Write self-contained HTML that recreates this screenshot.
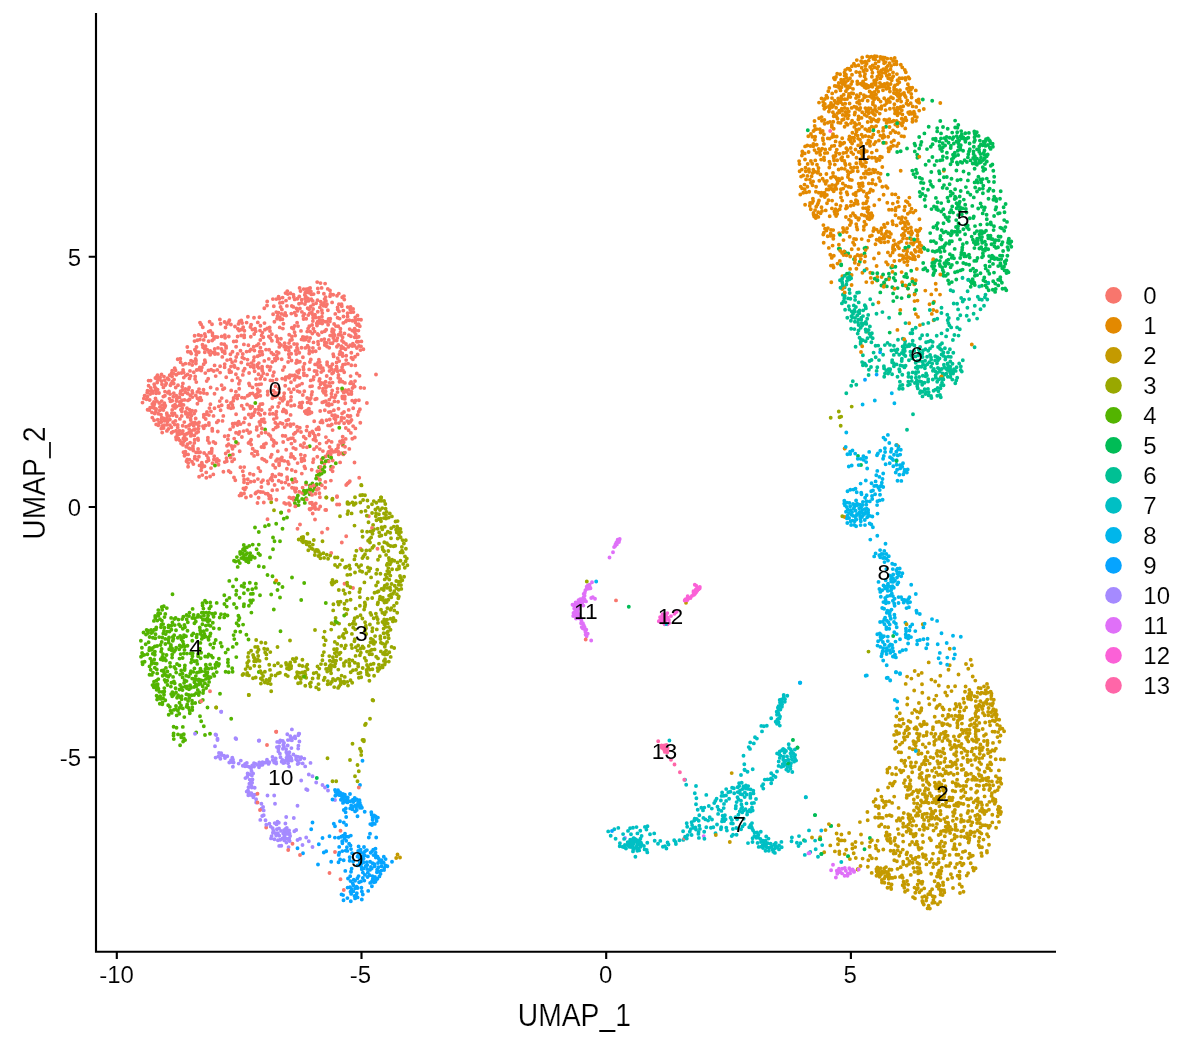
<!DOCTYPE html>
<html lang="en"><head><meta charset="utf-8"><title>UMAP clusters</title>
<style>
html,body{margin:0;padding:0;background:#fff;}
body{width:1200px;height:1050px;overflow:hidden;font-family:"Liberation Sans",Arial,Helvetica,sans-serif;}
svg{display:block;position:absolute;left:0;top:0;}
text{font-family:"Liberation Sans",Arial,Helvetica,sans-serif;fill:#000;}
.pts path{fill:none;stroke-width:3.90;stroke-linecap:round;}
.axis{fill:none;stroke:#000;stroke-width:2.13;}
.tk text,.lg text{font-size:24px;stroke:#fff;stroke-width:0.12px;paint-order:fill stroke;}
.ti text{font-size:28px;stroke:#fff;stroke-width:0.2px;paint-order:fill stroke;}
.lb text{font-size:22.8px;}
</style></head><body>
<svg width="1200" height="1050" viewBox="0 0 1200 1050">
<rect width="1200" height="1050" fill="#fff"/>
<g class="pts">
<path stroke="#E38900" d="M910.9 243.1h0M893.4 245.4h0M807.3 145.5h0M914.0 242.4h0M867.0 216.5h0M835.5 155.8h0M856.2 224.1h0M896.9 74.1h0M867.0 247.8h0M911.6 97.5h0M845.1 163.4h0M844.7 517.0h0M908.7 232.5h0M813.5 212.9h0M818.8 192.8h0M840.5 206.0h0M917.8 101.9h0M890.6 84.0h0M913.0 255.2h0M851.1 84.1h0M892.9 224.3h0M837.5 263.6h0M871.4 119.1h0M859.6 255.7h0M836.0 152.5h0M865.5 136.0h0M832.1 200.6h0M848.2 174.8h0M859.5 109.8h0M815.1 129.5h0M907.1 251.5h0M887.9 86.0h0M820.6 132.6h0M847.1 228.2h0M897.5 112.8h0M923.8 109.0h0M889.5 127.0h0M847.9 177.0h0M804.7 153.4h0M902.0 255.4h0M909.1 295.4h0M880.8 58.6h0M863.3 203.5h0M920.4 228.6h0M833.5 235.7h0M842.1 110.8h0M826.5 230.5h0M842.0 178.2h0M857.3 229.5h0M837.6 180.8h0M874.7 56.3h0M898.5 122.6h0M868.4 140.4h0M897.5 126.2h0M896.3 61.4h0M851.7 249.2h0M827.8 138.4h0M819.3 180.7h0M904.3 210.2h0M824.3 181.1h0M847.6 124.8h0M913.3 212.6h0M846.6 205.9h0M866.3 111.5h0M887.8 236.5h0M886.0 186.2h0M886.8 231.5h0M873.1 110.7h0M887.7 65.9h0M906.8 243.1h0M861.1 61.1h0M869.6 143.1h0M837.5 118.7h0M931.3 294.4h0M867.3 331.5h0M877.8 121.5h0M884.8 227.1h0M824.0 157.5h0M845.5 115.8h0M899.0 248.2h0M813.1 201.1h0M864.2 97.5h0M841.6 168.5h0M891.7 80.2h0M911.5 208.8h0M884.2 98.2h0M844.6 99.3h0M849.8 179.7h0M898.6 133.1h0M867.5 211.7h0M831.7 257.9h0M852.9 171.0h0M894.1 87.2h0M861.7 214.7h0M851.0 167.7h0M865.0 177.5h0M839.4 153.8h0M833.8 255.8h0M887.9 252.4h0M839.0 85.9h0M826.4 95.7h0M871.7 126.6h0M871.7 84.5h0M847.5 68.6h0M810.5 146.0h0M833.9 78.0h0M827.0 203.2h0M844.5 84.0h0M888.7 151.4h0M882.3 167.0h0M881.6 277.0h0M801.1 176.6h0M873.0 169.8h0M829.9 149.0h0M881.7 84.8h0M838.5 100.9h0M917.4 235.5h0M812.1 203.0h0M902.2 78.3h0M876.8 111.5h0M867.8 85.8h0M845.9 208.6h0M887.3 202.8h0M899.5 78.3h0M865.2 129.1h0M870.0 145.8h0M831.8 124.9h0M935.7 283.8h0M880.1 156.6h0M839.1 87.9h0M908.3 104.9h0M872.0 157.7h0M857.4 84.0h0M869.3 128.7h0M875.6 141.9h0M870.1 67.0h0M843.0 228.0h0M904.3 119.8h0M866.0 203.3h0M830.3 254.7h0M816.2 206.8h0M833.8 158.1h0M845.2 70.1h0M831.3 282.2h0M877.8 87.3h0M906.3 249.0h0M914.2 284.4h0M844.5 72.5h0M877.9 172.7h0M849.0 139.2h0M868.4 240.6h0M870.3 272.7h0M885.9 142.9h0M871.7 69.3h0M836.7 179.1h0M876.7 229.6h0M900.5 107.0h0M865.4 61.8h0M894.3 261.0h0M865.4 108.1h0M907.1 88.8h0M919.7 244.6h0M862.4 155.5h0M933.6 320.2h0M831.1 188.2h0M891.5 142.1h0M860.5 161.7h0M805.1 204.7h0M812.3 136.8h0M884.6 242.3h0M850.7 172.1h0M802.3 151.4h0M858.6 152.0h0M915.5 210.6h0M802.1 188.4h0M861.3 153.2h0M865.5 69.3h0M843.1 232.1h0M831.8 146.1h0M835.7 185.2h0M841.5 87.2h0M862.3 85.0h0M862.8 186.0h0M893.0 60.9h0M890.5 69.2h0M878.7 61.4h0M855.7 134.4h0M890.5 133.0h0M857.8 203.9h0M871.7 94.5h0M818.2 212.2h0M851.5 93.1h0M875.1 106.3h0M859.2 100.8h0M843.7 119.3h0M842.4 276.2h0M817.5 172.8h0M819.1 118.2h0M897.4 329.9h0M831.9 208.4h0M936.1 289.7h0M857.3 201.3h0M808.6 152.0h0M864.4 87.0h0M893.0 72.4h0M895.1 110.5h0M883.3 60.1h0M863.9 95.2h0M834.6 100.7h0M837.2 160.3h0M904.8 95.5h0M902.3 67.4h0M874.7 67.2h0"/>
<path stroke="#DF70F8" d="M836.8 870.8h0M576.4 616.1h0M582.1 603.2h0M578.5 605.7h0M586.0 601.4h0M835.9 877.5h0M614.1 547.1h0M573.5 612.9h0M583.4 600.9h0M582.7 628.2h0M585.4 590.3h0M586.3 629.6h0M583.5 597.5h0M578.5 600.2h0M576.9 607.4h0M587.7 633.8h0M808.5 853.2h0M578.6 607.9h0M617.8 541.7h0M584.6 595.8h0M595.0 598.8h0M582.9 623.3h0M587.9 585.5h0M579.4 614.7h0M577.1 604.7h0M583.7 625.3h0M576.1 609.2h0"/>
<path stroke="#FF66A8" d="M663.1 747.8h0M664.4 746.9h0M667.4 748.9h0M664.0 748.0h0M658.2 741.2h0"/>
<path stroke="#FB61D7" d="M696.2 585.7h0M662.5 614.3h0M665.1 621.7h0M687.7 596.3h0M668.9 619.9h0M698.1 589.4h0M694.8 584.8h0M662.4 620.6h0M686.2 599.1h0"/>
<path stroke="#99A800" d="M383.7 590.0h0M254.9 658.7h0M376.2 656.7h0M387.5 563.6h0M329.6 666.1h0M404.8 567.7h0M365.0 495.2h0M378.8 519.0h0M378.9 664.6h0M387.3 587.9h0M360.6 648.8h0M400.6 537.3h0M397.1 526.5h0M299.5 672.9h0M373.1 524.9h0M345.8 645.4h0M390.4 575.6h0M248.8 695.0h0M842.3 516.3h0M289.1 666.2h0M322.4 660.3h0M344.6 608.7h0M397.5 562.4h0M397.2 612.7h0M298.1 683.3h0M387.9 631.5h0M363.7 648.0h0M358.9 567.0h0M383.6 633.2h0M400.4 529.0h0M274.0 510.3h0M318.8 689.2h0M354.7 618.2h0M297.1 672.2h0M344.8 676.9h0M378.5 591.2h0M396.3 581.0h0M389.3 572.0h0M289.7 664.5h0M340.5 652.6h0M245.6 669.1h0M331.1 673.3h0M397.6 521.1h0M366.6 670.0h0M277.5 647.0h0M333.8 582.5h0M393.4 617.9h0M388.3 568.1h0M356.1 669.7h0M340.0 516.2h0M363.8 740.0h0M398.7 589.7h0M376.5 520.2h0M381.0 521.3h0M256.1 661.3h0M345.0 567.5h0M838.8 411.5h0M355.0 503.8h0M301.6 537.5h0M347.3 574.9h0M373.8 501.1h0M306.2 677.8h0M396.4 588.3h0M253.1 655.0h0M216.2 707.5h0M387.3 571.1h0M358.9 677.8h0M350.0 760.0h0M299.3 665.2h0M380.4 573.8h0M394.7 585.8h0M380.9 651.4h0M336.9 649.0h0M376.8 629.4h0M368.5 522.3h0M365.8 625.7h0M388.7 638.3h0M346.3 614.0h0M327.6 684.2h0M355.7 503.3h0M380.7 518.8h0M851.7 406.6h0M330.5 670.5h0M380.0 510.0h0M378.0 602.5h0M307.6 669.2h0M348.1 511.3h0M339.3 686.1h0M364.8 602.4h0M335.3 663.6h0M370.0 718.8h0M380.4 639.0h0M270.3 652.1h0M384.6 614.2h0M358.8 771.2h0M339.2 654.1h0M586.8 581.5h0M356.5 564.6h0M336.8 651.8h0M388.4 599.7h0M248.9 675.4h0M384.7 664.6h0M306.1 666.7h0M391.0 538.3h0M360.0 748.8h0M339.9 564.6h0M312.8 549.1h0M308.3 550.3h0M362.4 618.5h0M334.7 666.4h0M362.6 536.7h0M396.8 532.4h0M342.4 636.0h0M370.9 638.6h0M391.2 528.2h0M377.7 528.8h0M387.1 654.2h0M361.2 677.3h0M360.3 495.2h0M394.2 648.0h0M305.3 685.7h0M355.0 572.5h0M384.3 542.2h0M259.5 666.5h0M354.4 641.3h0M391.9 516.4h0M381.4 535.5h0M385.8 621.7h0M402.8 552.5h0M333.4 604.2h0M379.3 669.1h0M385.6 508.8h0M270.7 684.1h0M385.8 600.3h0M325.7 640.2h0M370.0 718.8h0"/>
<path stroke="#C49A00" d="M974.6 723.3h0M906.1 826.4h0M938.2 763.7h0M926.3 778.8h0M955.4 762.5h0M917.0 729.2h0M941.3 850.1h0M990.6 756.7h0M988.4 836.6h0M876.1 848.4h0M994.8 721.2h0M909.0 863.9h0M986.9 703.7h0M922.0 684.3h0M936.8 796.9h0M920.1 724.5h0M924.5 813.9h0M979.8 818.4h0M963.1 757.8h0M987.2 768.0h0M941.3 799.2h0M979.6 775.9h0M971.6 751.4h0M948.5 766.4h0M969.4 690.0h0M686.0 602.8h0M967.5 838.3h0M925.4 764.4h0M937.4 761.3h0M960.0 893.0h0M907.9 789.9h0M923.5 735.9h0M898.6 807.9h0M943.2 885.1h0M950.8 772.9h0M998.9 787.1h0M988.3 777.6h0M907.3 736.4h0M902.2 742.6h0M949.6 709.8h0M956.6 706.6h0M860.5 866.0h0M878.4 850.8h0M999.5 741.7h0M957.9 720.8h0M870.0 855.8h0M962.9 733.0h0M934.8 782.6h0M988.1 711.9h0M933.3 813.3h0M922.9 902.7h0M955.6 826.8h0M971.0 798.5h0M916.6 807.3h0M963.1 830.5h0M932.8 825.1h0M994.9 791.5h0M944.3 788.4h0M980.5 827.2h0M997.6 790.1h0M988.7 827.7h0M902.7 817.9h0M986.3 811.2h0M995.9 710.2h0M975.6 734.0h0M954.2 805.2h0M949.3 806.5h0M970.3 834.6h0M975.8 701.1h0M927.3 796.1h0M891.5 869.7h0M892.1 802.9h0M949.9 741.7h0M972.2 810.9h0M975.8 731.4h0M952.6 797.7h0M945.4 786.2h0M896.8 820.7h0M940.1 901.9h0M904.7 739.7h0M987.2 825.6h0M839.6 840.5h0M923.1 785.1h0M975.4 713.5h0M825.5 830.1h0M958.5 854.8h0M900.0 876.9h0M926.2 900.6h0M956.3 786.0h0M984.0 735.8h0M988.1 753.3h0M976.3 711.5h0M975.2 759.8h0M982.6 811.9h0M975.2 777.9h0M935.5 800.4h0M945.0 851.1h0M985.8 778.4h0M936.3 708.0h0M910.4 780.2h0M985.2 722.5h0M895.1 877.2h0M961.9 886.7h0M947.7 879.2h0M907.5 698.3h0M940.0 846.9h0M968.6 842.5h0M926.7 798.5h0M923.8 762.7h0M927.5 760.6h0M908.6 720.9h0M906.5 854.3h0M992.7 710.9h0M964.2 710.2h0M949.4 830.5h0M914.1 744.1h0M875.6 799.3h0M976.4 720.1h0M976.5 739.1h0M940.9 756.2h0M931.5 796.0h0M914.9 898.4h0M957.6 875.8h0M919.7 712.6h0M954.6 813.0h0M935.2 786.2h0M912.1 842.0h0M903.9 737.2h0M957.1 779.7h0M927.6 908.4h0M964.8 730.1h0M921.3 890.1h0M933.0 853.6h0M981.2 775.6h0M905.0 780.2h0M931.8 859.2h0M978.5 710.1h0M999.8 729.1h0M898.0 846.4h0M896.9 861.2h0M947.1 817.3h0M989.4 801.9h0M909.1 795.1h0M878.7 806.2h0M976.7 725.5h0M979.1 758.5h0M861.9 843.1h0M921.2 777.4h0M887.2 873.6h0M920.5 805.7h0M912.2 772.2h0M959.8 844.3h0M984.0 741.0h0M987.6 743.0h0M901.2 772.3h0M950.9 874.3h0M922.8 744.4h0M927.2 770.4h0M981.1 764.1h0M919.7 734.1h0M911.4 678.6h0M820.2 837.1h0M955.7 703.9h0M977.9 706.4h0M910.7 786.6h0M934.3 699.7h0M952.7 790.8h0M929.4 704.2h0M932.1 770.7h0M918.7 740.3h0M908.6 828.5h0M972.5 748.7h0M910.8 874.9h0M898.9 818.2h0M967.9 779.6h0M944.0 723.9h0M990.1 725.3h0M961.5 743.9h0M938.4 818.9h0M936.9 846.8h0M899.8 744.6h0M928.2 789.3h0M956.2 805.6h0M997.7 816.2h0M890.1 783.4h0M888.7 878.7h0M961.4 858.0h0M989.0 844.8h0M942.6 852.5h0M983.8 755.3h0M895.0 748.7h0M901.1 752.4h0M819.6 839.1h0M910.8 830.3h0M910.6 833.4h0M963.9 821.0h0M960.8 803.5h0M961.0 821.7h0M972.7 676.5h0M1000.1 807.7h0M950.9 749.1h0M896.3 747.4h0M1004.1 731.2h0M971.0 773.8h0M956.0 755.8h0M956.4 752.0h0M956.1 849.3h0M849.1 833.0h0M960.1 862.6h0M913.3 791.6h0M940.5 774.5h0M991.9 781.4h0M930.2 891.6h0M939.8 704.8h0M844.6 840.5h0M978.6 730.4h0M915.9 857.6h0M959.4 715.2h0"/>
<path stroke="#A58AFF" d="M284.0 830.2h0M286.2 817.0h0M289.1 766.6h0M280.3 740.4h0M276.5 824.4h0M287.3 734.2h0M275.7 758.5h0M271.0 838.4h0M284.0 746.8h0M285.7 832.5h0M291.7 760.5h0M299.4 741.5h0M304.3 758.6h0M280.3 839.8h0M277.2 741.9h0M322.5 785.0h0M251.9 775.6h0M227.3 756.2h0M625.0 838.0h0M240.8 760.6h0M258.8 740.8h0M255.2 794.6h0M267.2 761.7h0M256.2 802.5h0M246.9 766.1h0M301.2 757.2h0M217.5 738.8h0M276.9 829.2h0M335.0 800.0h0M272.8 760.1h0M277.5 821.8h0M236.2 739.0h0M279.2 845.9h0M296.2 830.0h0M253.1 773.5h0M254.0 763.1h0M249.3 766.9h0M247.6 773.4h0M294.3 831.2h0M219.0 753.0h0M287.9 740.1h0M307.5 790.0h0M305.2 766.4h0M297.6 764.1h0M221.2 711.8h0M233.0 759.7h0M316.2 782.5h0M274.4 839.3h0M284.3 836.1h0M224.0 755.8h0"/>
<path stroke="#06A4FF" d="M359.9 802.9h0M362.8 878.0h0M392.0 861.8h0M358.6 846.5h0M345.0 833.8h0M343.1 835.7h0M360.0 785.0h0M355.2 800.2h0M335.0 790.0h0M348.0 878.5h0M347.4 799.6h0M359.6 859.3h0M362.8 894.5h0M379.4 860.5h0M375.4 881.7h0M371.7 814.8h0M346.2 825.0h0M351.0 871.7h0M339.2 846.9h0M370.0 833.8h0M352.3 809.2h0M360.0 807.8h0M377.4 878.7h0M357.0 805.0h0M381.3 870.6h0M343.9 800.1h0M378.0 863.0h0M345.3 870.9h0M352.1 853.3h0M335.3 795.7h0M349.7 857.2h0M372.5 876.1h0M341.2 836.8h0M342.3 851.1h0M378.4 867.2h0M360.8 805.7h0M361.2 852.6h0M338.9 795.1h0M341.4 795.5h0M375.9 855.6h0M327.5 786.2h0M372.9 823.2h0M337.7 793.2h0M353.3 802.1h0M318.0 864.5h0M345.7 850.6h0M370.3 824.1h0M355.0 805.6h0M355.1 811.4h0M387.4 866.2h0M353.3 891.4h0M323.8 852.5h0M372.0 881.1h0M357.6 888.0h0M367.9 856.4h0"/>
<path stroke="#F8766D" d="M312.9 321.1h0M330.4 378.8h0M199.8 367.5h0M336.7 340.6h0M276.7 355.7h0M146.5 399.3h0M210.4 330.9h0M343.7 392.6h0M299.8 427.7h0M226.7 401.2h0M301.7 302.9h0M230.9 324.5h0M343.7 342.3h0M307.6 402.4h0M155.8 390.4h0M233.6 397.9h0M323.0 388.6h0M171.4 427.3h0M334.7 397.6h0M316.9 374.4h0M312.6 351.7h0M310.1 338.0h0M305.7 492.3h0M329.3 399.6h0M270.7 457.0h0M290.1 340.2h0M319.7 320.1h0M359.0 345.9h0M320.5 283.1h0M215.7 376.1h0M210.4 404.2h0M169.3 416.1h0M283.2 442.0h0M275.2 392.7h0M328.7 403.8h0M226.0 346.1h0M222.9 389.3h0M220.1 366.2h0M244.7 368.8h0M175.7 387.5h0M265.6 493.6h0M298.4 372.7h0M236.3 341.3h0M206.3 414.3h0M292.0 487.8h0M278.7 352.9h0M319.6 443.6h0M229.4 320.2h0M319.2 380.9h0M300.0 524.5h0M358.7 411.7h0M352.4 320.8h0M338.3 377.7h0M186.2 446.8h0M257.4 366.3h0M216.8 422.4h0M343.0 364.7h0M284.1 315.1h0M347.2 421.1h0M248.8 793.0h0M156.8 376.8h0M311.6 394.8h0M187.3 459.5h0M166.8 413.2h0M354.6 328.7h0M342.6 356.0h0M161.5 381.0h0M219.8 401.1h0M187.0 408.2h0M249.0 433.1h0M247.6 395.8h0M275.3 396.9h0M263.3 373.3h0M185.4 451.6h0M329.6 447.0h0M309.3 326.2h0M353.4 312.1h0M173.3 396.8h0M279.2 474.3h0M321.9 316.7h0M368.8 516.2h0M277.6 358.6h0M272.3 490.3h0M295.3 432.7h0M199.1 476.8h0M200.5 701.2h0M355.7 334.3h0M327.8 288.9h0M210.0 691.2h0M312.7 513.5h0M273.3 429.6h0M198.2 431.8h0M310.8 398.1h0M221.4 349.0h0M343.3 322.9h0M247.8 364.3h0M291.1 405.9h0M343.4 454.4h0M241.2 495.0h0M234.2 438.6h0M308.0 298.5h0M244.6 397.9h0M361.4 341.4h0M279.3 403.1h0M299.2 406.7h0M197.3 340.2h0M287.4 404.5h0M305.3 292.7h0M325.4 481.9h0M277.3 459.3h0M322.3 402.4h0M185.7 411.9h0M189.5 378.4h0M260.3 414.9h0M259.4 421.9h0M314.5 371.0h0M340.3 379.2h0M320.2 506.5h0M304.3 314.0h0M213.9 338.9h0M183.1 370.0h0M236.2 357.0h0M322.9 451.1h0M177.4 435.1h0M165.3 405.7h0M342.7 445.6h0M253.5 474.8h0M251.3 363.1h0M299.3 352.7h0M288.1 362.0h0M327.6 454.2h0M264.9 329.8h0M257.5 396.4h0M224.6 351.1h0M164.9 395.8h0M303.6 369.5h0M194.3 435.4h0M294.6 332.2h0M157.5 375.3h0M203.5 389.7h0M232.1 380.4h0M208.7 331.6h0M309.7 432.9h0M308.7 300.8h0M256.8 427.1h0M183.8 377.6h0M267.7 391.4h0M315.9 317.5h0M261.2 384.1h0M214.7 352.3h0M175.5 370.2h0M344.9 382.9h0M162.0 405.1h0M183.0 364.8h0M333.9 410.3h0M305.9 301.5h0M350.1 345.3h0M203.8 414.8h0M323.5 305.7h0M258.5 435.9h0M270.4 435.9h0M176.1 430.7h0M349.2 320.3h0M337.6 307.5h0M239.7 451.2h0M344.5 583.8h0M254.3 481.3h0M331.6 369.2h0M301.4 458.8h0M244.2 337.4h0M279.8 459.1h0M177.7 424.9h0M261.4 487.0h0M303.6 458.6h0M251.1 417.3h0M304.9 455.8h0M324.9 321.6h0M220.6 323.8h0M354.6 345.7h0M250.6 366.6h0M159.0 393.0h0M194.6 335.7h0M242.8 354.0h0M177.7 427.3h0M257.6 389.2h0M210.0 691.2h0M337.5 392.1h0M184.5 399.9h0M190.6 412.7h0M210.2 351.0h0M209.0 352.2h0M305.8 296.6h0M299.9 308.5h0M152.3 404.0h0M192.8 361.6h0M284.0 399.1h0M271.8 439.3h0M296.4 481.6h0M282.2 378.6h0M154.1 420.3h0M167.6 378.3h0M288.0 439.2h0M330.6 411.9h0M192.4 397.1h0M149.7 400.0h0M208.2 378.7h0M326.7 342.9h0M261.5 447.0h0M358.6 324.1h0M353.1 426.1h0M210.9 411.4h0M225.5 327.5h0M348.7 389.9h0M243.4 370.9h0M357.1 325.0h0M331.6 441.9h0M297.2 376.8h0M271.9 340.8h0M205.5 425.5h0M308.3 315.1h0M237.2 398.6h0M313.1 318.0h0M236.0 432.7h0M296.9 360.5h0M260.4 347.8h0M346.2 536.2h0M361.0 346.4h0M264.3 360.9h0M276.4 411.8h0M340.1 462.4h0M345.5 349.3h0M247.9 316.7h0M358.9 400.3h0M341.5 304.2h0M317.6 333.9h0M185.4 454.4h0M316.4 485.5h0M313.5 459.2h0M166.2 383.3h0M293.0 456.8h0M205.3 362.2h0M256.0 397.4h0M190.8 435.9h0M262.1 366.6h0M279.1 462.9h0M176.3 374.7h0M214.2 337.2h0M217.9 353.9h0M291.8 306.0h0M346.9 320.1h0M220.1 372.6h0M192.2 365.0h0M296.3 354.0h0M167.5 421.7h0M262.3 370.8h0M218.5 464.8h0M332.0 331.6h0M324.8 342.2h0M266.2 827.5h0M312.1 325.0h0M306.8 410.5h0M321.6 287.9h0M320.9 368.0h0M250.7 481.7h0M239.5 432.0h0M278.6 296.6h0M289.0 503.2h0M338.7 334.7h0M195.7 418.5h0M330.9 366.6h0M211.1 369.8h0M242.1 323.0h0M325.9 306.3h0M212.5 463.2h0M341.6 346.3h0M160.1 377.5h0M205.7 419.0h0M198.8 426.0h0M323.9 302.9h0M243.2 327.2h0M297.1 371.5h0M307.1 426.6h0M264.3 308.3h0M198.4 428.5h0M223.3 415.9h0M325.9 300.9h0M173.1 422.3h0M305.2 468.4h0M312.7 300.9h0M272.3 480.5h0M293.0 482.3h0M191.5 415.6h0M288.3 347.5h0M258.1 392.5h0M339.3 504.5h0M271.4 352.8h0M241.3 495.2h0M325.1 283.6h0M260.2 425.0h0M155.9 411.3h0M351.4 394.0h0M200.3 392.7h0M309.3 292.7h0M210.2 354.7h0M217.0 388.9h0M331.8 424.4h0M324.4 463.6h0M171.6 432.8h0M255.4 493.6h0M228.7 471.0h0M162.0 384.2h0M316.4 429.2h0M199.5 465.4h0M187.0 433.7h0M315.1 364.4h0M213.1 352.5h0M238.5 395.4h0M301.5 407.6h0M297.0 344.3h0M348.9 335.1h0M317.7 321.6h0M328.1 324.8h0M299.8 402.9h0M331.5 396.9h0M180.2 393.7h0M346.2 355.8h0M253.3 415.3h0M327.1 362.3h0M278.7 480.7h0M297.0 426.8h0M220.6 410.2h0M283.7 409.5h0M305.7 339.6h0M303.7 289.1h0M246.0 497.5h0M152.3 417.6h0"/>
<path stroke="#00BC56" d="M976.2 270.6h0M958.6 146.7h0M891.3 267.5h0M986.8 219.2h0M970.6 270.4h0M841.2 265.2h0M916.0 169.7h0M911.2 270.8h0M991.5 258.4h0M973.8 197.4h0M980.1 231.3h0M917.0 173.0h0M989.7 266.4h0M967.8 192.4h0M942.0 151.0h0M944.0 214.6h0M893.3 301.1h0M940.3 238.5h0M1007.4 255.8h0M999.7 213.1h0M942.4 159.9h0M932.6 251.1h0M956.6 208.2h0M994.0 272.6h0M1006.3 290.2h0M933.1 139.0h0M971.8 283.4h0M979.4 248.5h0M974.3 260.9h0M983.3 170.8h0M941.6 239.6h0M958.4 143.3h0M977.1 238.8h0M940.3 121.0h0M988.0 145.0h0M919.7 192.0h0M1006.3 260.3h0M988.1 235.6h0M1005.4 227.1h0M1003.6 207.2h0M986.0 230.7h0M941.0 138.4h0M983.5 141.7h0M972.9 239.8h0M977.0 191.5h0M963.5 171.5h0M972.7 163.5h0M998.4 259.4h0M961.8 134.3h0M838.8 248.8h0M942.6 187.8h0M988.2 190.9h0M948.4 201.2h0M880.3 292.4h0M893.7 278.0h0M854.0 259.3h0M975.0 159.9h0M949.7 137.8h0M1000.3 227.6h0M957.6 164.3h0M910.0 238.3h0M977.8 243.7h0M993.3 170.7h0M998.7 240.2h0M924.5 248.8h0M928.7 126.8h0M959.1 140.6h0M1009.9 243.7h0M1004.6 270.4h0M316.8 778.0h0M963.2 137.1h0M628.8 606.7h0M942.1 274.6h0M943.6 247.7h0M945.8 275.8h0M984.9 241.6h0M944.6 251.1h0M956.9 162.5h0M963.3 263.0h0M983.4 280.2h0M990.8 165.7h0M988.5 198.7h0M974.7 233.3h0M943.9 177.2h0M848.2 253.5h0M980.5 273.3h0M974.9 140.3h0M934.6 165.1h0M1006.5 273.0h0M939.4 180.4h0M942.9 147.2h0M869.9 838.0h0M982.7 179.1h0M820.2 839.2h0M925.2 268.2h0M921.4 142.0h0M916.2 290.3h0M952.1 161.4h0M992.9 146.8h0M953.1 212.6h0M977.0 149.4h0M928.0 189.8h0M993.4 190.7h0M982.8 188.6h0M1005.3 263.8h0M984.3 232.3h0M941.0 257.0h0M974.3 282.8h0M1001.2 259.1h0M992.1 255.8h0M960.1 207.2h0M1007.0 221.9h0M1008.3 249.7h0M982.2 242.8h0M969.8 149.2h0M844.7 251.7h0M980.4 179.5h0M947.7 128.7h0M913.5 174.2h0M973.3 218.1h0M942.9 156.4h0M930.2 233.1h0M948.8 221.0h0M1003.1 251.0h0M939.6 173.4h0M987.9 270.9h0M986.7 156.3h0"/>
<path stroke="#00C094" d="M862.8 340.2h0M892.1 362.3h0M869.6 361.0h0M960.3 315.3h0M969.2 299.1h0M937.9 367.9h0M957.2 377.7h0M910.9 355.2h0M858.7 302.4h0M865.6 306.6h0M901.7 361.0h0M900.4 365.4h0M859.0 292.4h0M949.9 349.3h0M902.6 346.5h0M852.8 381.2h0M908.5 373.2h0M931.0 357.4h0M873.6 352.6h0M905.4 356.0h0M862.9 355.3h0M977.8 296.7h0M846.3 393.3h0M871.4 342.3h0M956.6 367.2h0M876.5 313.7h0M915.6 356.4h0M908.3 381.6h0M923.0 350.5h0M888.6 369.2h0M941.7 349.9h0M917.5 366.5h0M984.0 305.7h0M921.6 381.9h0M861.2 319.8h0M911.8 380.9h0M928.0 388.9h0M958.1 309.4h0M903.1 350.2h0M863.9 323.6h0M904.8 351.0h0M912.7 340.8h0M905.1 341.2h0M924.7 389.2h0M901.8 353.0h0M842.3 278.4h0M952.9 340.0h0M872.9 304.2h0M922.1 335.3h0M950.6 290.2h0M932.7 341.9h0M849.4 309.6h0M924.9 368.3h0M979.4 299.3h0M848.1 298.4h0M841.9 280.5h0M935.7 371.6h0M946.3 368.7h0M893.7 363.2h0M920.1 338.5h0M988.2 283.2h0M844.7 275.7h0M857.7 333.6h0M854.5 311.7h0M925.2 365.7h0M904.7 347.9h0M938.0 360.2h0M908.0 385.2h0M957.9 318.7h0M844.7 287.4h0M904.4 367.4h0M840.0 280.3h0M921.4 366.7h0M931.2 359.6h0M915.7 327.8h0M942.6 373.4h0M919.6 381.1h0"/>
<path stroke="#00BFC4" d="M748.0 843.1h0M694.8 793.2h0M778.6 722.4h0M753.8 743.4h0M771.2 778.5h0M685.0 779.7h0M698.4 833.9h0M762.0 731.4h0M740.4 794.0h0M777.0 714.8h0M775.8 842.9h0M761.3 725.9h0M791.0 763.2h0M737.7 792.1h0M744.9 792.5h0M647.5 826.3h0M750.7 789.4h0M746.7 794.5h0M637.0 840.3h0M725.6 819.2h0M775.7 721.8h0M788.9 762.7h0M750.6 811.6h0M633.3 849.3h0M637.4 844.2h0M635.0 848.1h0M750.5 824.9h0M766.6 847.3h0M779.7 700.0h0M630.1 842.8h0M796.1 760.6h0M779.8 725.6h0M711.8 808.6h0M715.5 833.2h0M679.5 840.2h0M698.7 820.7h0M715.3 800.9h0M726.1 800.9h0M694.7 818.8h0M667.6 842.5h0M743.7 818.8h0M636.8 846.1h0M753.0 830.3h0M774.9 848.6h0M766.1 844.3h0M794.9 749.5h0M769.3 847.7h0M731.2 823.4h0M717.5 806.7h0M644.9 826.9h0M787.0 756.4h0M747.9 788.9h0M644.6 849.4h0M647.3 852.4h0M742.5 789.1h0M733.9 788.2h0M789.0 748.0h0M730.6 817.8h0M668.5 844.5h0M752.0 807.5h0M712.0 819.5h0M745.8 788.3h0M718.1 813.9h0M763.3 788.6h0M761.0 842.1h0M743.6 810.6h0M624.4 847.3h0M738.4 814.8h0M782.0 750.3h0M784.5 761.8h0M722.0 821.4h0M782.6 764.1h0M744.7 770.1h0M757.2 836.3h0M699.9 828.9h0M623.1 834.1h0M636.9 847.8h0M757.1 832.4h0M773.3 851.8h0M726.3 827.7h0M783.6 766.1h0M791.5 841.2h0M710.9 827.7h0M779.3 754.5h0"/>
<path stroke="#53B400" d="M318.9 473.2h0M209.1 612.6h0M200.4 668.8h0M237.7 566.9h0M164.4 627.8h0M194.4 661.3h0M205.0 735.0h0M179.5 702.8h0M236.5 607.8h0M155.3 638.2h0M164.9 674.5h0M198.6 684.6h0M228.7 672.3h0M160.7 659.3h0M319.1 467.2h0M308.8 490.1h0M265.1 429.4h0M168.7 642.6h0M142.1 652.9h0M156.3 680.8h0M205.4 669.1h0M208.4 668.7h0M155.2 685.0h0M255.3 403.0h0M191.0 687.8h0M154.2 659.4h0M146.6 630.0h0M142.6 664.2h0M243.9 593.2h0M160.2 696.2h0M157.8 697.2h0M255.9 587.9h0M168.7 714.7h0M168.3 676.7h0M175.2 650.1h0M216.7 672.1h0M141.9 647.8h0M224.2 617.4h0M158.3 679.1h0M329.1 456.3h0M185.0 627.2h0M242.8 553.3h0M179.3 708.0h0M177.8 637.7h0M321.7 473.6h0M297.9 495.5h0M162.7 675.7h0M226.7 606.6h0M306.0 498.2h0M192.4 656.2h0M171.2 694.1h0M149.5 674.7h0M170.5 710.8h0M145.7 644.3h0M202.1 635.8h0M248.6 558.2h0M199.9 702.0h0M282.5 587.0h0M236.4 590.8h0M186.2 675.8h0M182.8 708.4h0M179.3 713.7h0M182.8 628.7h0M172.4 692.3h0M181.6 699.2h0M201.7 638.9h0M180.1 685.0h0M173.9 709.9h0M175.6 668.9h0M191.8 659.4h0M208.6 639.7h0M163.3 633.4h0M141.0 656.7h0M192.2 703.4h0M206.3 612.6h0M208.7 654.5h0M258.8 672.0h0M292.0 577.5h0M309.7 494.3h0M170.7 646.6h0M158.0 613.7h0M163.7 670.3h0M184.0 635.1h0M196.7 661.0h0M174.7 625.1h0M339.3 427.7h0M224.8 614.4h0M243.8 606.2h0M162.3 637.5h0M195.8 676.1h0M186.6 706.8h0M161.7 670.6h0M163.8 606.2h0M243.9 559.1h0M252.9 600.1h0M179.5 658.6h0M248.5 639.5h0M197.7 616.9h0M171.1 617.9h0M179.2 649.3h0M196.6 637.3h0M206.1 688.1h0M268.8 525.0h0M203.8 726.2h0M179.0 624.5h0M248.9 605.7h0M194.8 618.3h0M151.8 661.3h0M151.1 630.0h0M201.0 632.0h0M185.1 740.1h0M182.2 619.1h0M278.8 583.8h0M241.6 585.9h0M199.8 627.5h0M164.0 694.7h0M178.1 695.3h0M173.4 638.7h0M174.2 635.2h0M250.1 600.4h0"/>
<path stroke="#00B6EB" d="M887.2 650.2h0M852.5 450.5h0M886.8 648.3h0M927.6 638.8h0M874.2 556.4h0M862.1 510.3h0M947.3 657.6h0M890.4 652.7h0M871.3 524.5h0M877.0 455.3h0M885.9 651.2h0M881.8 482.8h0M908.1 643.5h0M883.2 487.0h0M869.2 451.9h0M851.5 514.8h0M857.1 503.6h0M893.1 460.0h0M895.5 641.6h0M868.0 514.3h0M897.2 573.2h0M887.1 588.3h0M895.9 623.8h0M848.8 466.5h0M856.3 519.6h0M854.3 506.8h0M889.7 624.6h0M891.4 588.1h0M847.5 491.2h0M927.5 644.2h0M857.1 514.0h0M850.6 521.2h0M871.5 483.2h0M892.5 586.2h0M882.3 637.5h0M953.8 658.6h0M893.2 574.5h0M890.0 595.6h0M915.8 594.0h0M896.4 570.3h0M852.5 520.6h0M894.6 605.8h0M905.7 634.4h0M892.9 600.8h0M897.2 701.5h0M890.0 616.0h0M890.0 457.2h0M898.1 449.6h0M884.7 586.5h0M890.0 650.1h0M897.5 480.8h0M904.3 471.9h0M946.7 643.0h0M919.8 614.0h0M899.9 465.1h0M882.9 642.0h0M932.0 619.1h0M897.3 584.3h0M889.3 575.5h0M890.9 451.8h0M883.2 554.1h0"/>
<path stroke="#99A800" d="M405.6 561.2h0M362.4 558.1h0M358.2 645.5h0M366.0 628.3h0M303.1 538.7h0M386.1 650.6h0M326.2 497.5h0M375.8 516.3h0M260.8 678.5h0M325.4 664.3h0M370.6 531.4h0M248.6 652.9h0M365.2 604.7h0M334.2 624.2h0M370.0 542.5h0M391.3 597.2h0M390.5 629.7h0M255.2 646.9h0M391.6 584.0h0M369.9 669.6h0M384.8 652.2h0M378.0 559.8h0M305.4 674.8h0M383.9 660.9h0M302.3 672.5h0M347.5 609.6h0M370.8 664.4h0M353.2 627.5h0M309.5 542.5h0M261.8 673.3h0M344.1 681.4h0M375.4 509.4h0M381.2 497.5h0M303.1 542.2h0M324.7 677.8h0M330.7 664.9h0M323.5 637.4h0M291.2 666.0h0M307.2 542.2h0M324.6 631.6h0M370.4 612.9h0M332.5 665.7h0M384.1 501.0h0M264.9 671.7h0M338.8 590.0h0M367.0 674.6h0M360.5 615.3h0M368.1 540.7h0M379.2 532.4h0M354.5 525.6h0M386.6 511.9h0M400.5 560.7h0M388.9 557.9h0M346.2 566.8h0M392.1 569.2h0M349.3 663.0h0M300.6 682.7h0M377.8 582.2h0M399.0 566.3h0M354.4 559.4h0M279.9 672.7h0M334.2 687.1h0M263.1 676.0h0M357.5 765.0h0M338.1 687.9h0M358.2 666.5h0M254.3 665.8h0M378.0 658.4h0M379.2 500.7h0M398.8 596.4h0M369.5 539.1h0M286.0 663.0h0M261.2 642.5h0M264.2 648.7h0M384.1 587.7h0M390.3 590.0h0M257.8 659.7h0M355.6 608.6h0M351.4 645.0h0M315.0 630.0h0M361.2 751.2h0M397.7 538.5h0M318.8 551.9h0M332.7 661.4h0M372.5 642.7h0M270.0 669.9h0M369.9 651.1h0M330.4 683.7h0M343.5 590.2h0M265.2 652.4h0M385.5 644.1h0M376.0 513.3h0M335.6 618.0h0M316.2 549.9h0M386.9 543.2h0M313.8 540.0h0M318.7 675.2h0M367.4 500.5h0M216.2 707.5h0M274.4 665.4h0M400.3 581.6h0M369.9 550.2h0M357.5 650.6h0M333.2 610.4h0M379.8 556.2h0M365.0 725.0h0M266.4 658.6h0M334.8 641.9h0M388.2 635.1h0M367.1 531.7h0M361.2 485.0h0M310.9 682.4h0M383.0 653.7h0M335.3 680.2h0M373.6 663.7h0M366.3 550.5h0M338.7 604.6h0M374.6 649.4h0M363.1 500.0h0M400.8 577.9h0M380.9 642.8h0M386.7 602.1h0M357.5 781.2h0M380.1 596.7h0M839.5 417.3h0M349.6 624.6h0M362.2 571.7h0M355.0 497.2h0M340.7 684.3h0M386.8 632.9h0M277.9 673.4h0M389.1 595.8h0M360.0 570.9h0M384.5 602.6h0M384.1 551.3h0M340.6 659.0h0"/>
<path stroke="#C49A00" d="M908.4 824.6h0M895.5 725.8h0M899.6 719.7h0M948.2 824.9h0M871.7 872.9h0M903.8 813.0h0M963.4 785.9h0M879.0 813.9h0M929.5 784.7h0M945.7 731.6h0M913.8 799.4h0M927.7 752.2h0M938.8 685.5h0M968.2 736.1h0M937.3 751.0h0M976.6 819.2h0M907.3 858.6h0M940.5 820.3h0M915.1 859.5h0M979.4 762.1h0M942.3 741.1h0M982.9 825.2h0M939.4 790.9h0M960.6 707.3h0M944.3 737.9h0M999.0 821.9h0M957.9 784.1h0M941.0 734.0h0M922.9 826.3h0M887.7 835.8h0M976.1 792.5h0M913.5 867.9h0M838.0 838.9h0M987.0 834.2h0M985.3 825.3h0M909.1 733.6h0M900.8 726.2h0M961.5 752.8h0M932.3 902.9h0M899.1 733.2h0M923.1 842.0h0M973.6 802.3h0M972.1 832.4h0M939.1 786.2h0M931.0 814.2h0M998.6 806.8h0M946.2 829.9h0M979.9 823.3h0M991.0 712.5h0M948.3 714.7h0M963.6 796.1h0M980.7 688.2h0M924.7 827.2h0M962.1 718.1h0M955.4 740.0h0M914.5 871.9h0M916.9 711.6h0M947.9 828.5h0M954.6 709.1h0M992.9 703.2h0M910.4 721.9h0M852.4 848.5h0M942.6 895.0h0M900.5 852.5h0M938.5 858.9h0M959.9 785.9h0M930.2 817.3h0M947.8 740.0h0M955.1 686.3h0M980.4 744.5h0M908.9 728.6h0M919.2 863.9h0M961.7 769.9h0M966.1 786.0h0M974.1 727.1h0M903.2 823.4h0M977.8 798.4h0M922.3 897.1h0M888.7 883.4h0M937.4 755.8h0M908.1 884.6h0M918.0 738.1h0M954.3 846.5h0M918.2 792.5h0M943.5 830.8h0M908.2 814.2h0M973.4 776.8h0M955.6 746.3h0M928.6 820.8h0M995.7 759.2h0M945.3 773.2h0M915.9 815.8h0M982.7 729.0h0M957.4 727.4h0M963.8 748.7h0M882.3 871.5h0M867.8 866.7h0M922.7 779.9h0M999.9 726.1h0M970.7 760.3h0M836.6 833.5h0M940.6 814.3h0M921.0 800.5h0M979.2 704.8h0M876.5 875.7h0M982.2 757.9h0M967.9 836.1h0M918.4 675.0h0M918.0 871.4h0M959.5 875.7h0M918.4 750.7h0M955.9 764.5h0M855.8 858.0h0M946.8 806.4h0M979.5 802.4h0M929.1 743.4h0M954.1 754.3h0M992.3 822.4h0M914.1 803.1h0M877.4 867.5h0M971.2 699.6h0M881.0 874.6h0M966.5 732.9h0M960.9 815.2h0M959.6 871.6h0M964.1 702.8h0M968.1 698.8h0M977.2 791.2h0M980.0 810.9h0M937.8 904.2h0M896.3 731.3h0M955.4 824.6h0M887.7 876.6h0M914.5 728.5h0M1000.8 759.2h0M937.0 886.3h0M890.2 841.5h0M907.4 726.9h0M940.5 763.0h0M929.9 908.6h0M961.7 729.7h0M954.9 810.0h0M878.6 808.1h0M936.5 753.5h0M877.9 790.3h0M885.4 871.7h0M970.7 659.8h0M857.8 869.2h0M944.5 855.3h0M903.2 826.8h0M917.3 813.2h0M939.1 782.5h0M939.9 844.0h0M961.2 790.8h0M400.0 857.5h0M898.8 833.9h0M875.6 806.0h0M918.9 703.0h0M932.0 811.4h0M960.1 717.1h0M988.0 687.5h0M895.6 853.2h0M964.4 826.8h0M919.8 790.3h0M997.1 724.8h0M943.3 748.8h0M397.5 854.5h0M933.1 867.1h0M983.2 705.7h0M978.6 687.9h0M979.5 816.2h0M992.4 750.2h0M934.3 776.8h0M942.7 715.6h0M993.8 699.7h0M939.1 870.5h0M953.7 774.7h0M943.6 709.4h0M998.9 770.4h0M950.0 744.7h0M913.4 741.2h0M974.4 696.2h0M919.8 811.2h0M990.1 788.3h0M909.6 747.9h0M979.8 832.2h0M970.9 856.5h0M965.2 851.1h0M859.9 822.1h0M976.6 785.3h0M962.9 851.9h0M937.5 799.5h0M922.3 901.0h0M962.2 716.1h0M909.0 757.6h0M969.3 693.7h0M729.8 842.0h0M998.1 732.1h0M984.4 814.0h0M914.7 709.9h0M888.2 827.2h0M966.0 773.0h0M943.3 858.2h0M1000.5 735.5h0M880.5 868.1h0M985.7 690.2h0M933.9 863.6h0M949.7 665.2h0M824.2 852.2h0M933.5 830.6h0M922.8 624.3h0M876.6 871.3h0M998.4 778.4h0M987.4 740.8h0M968.5 799.4h0M993.0 742.9h0M943.3 790.6h0M906.9 795.2h0M978.9 774.1h0M873.6 801.8h0M894.2 796.6h0M944.1 797.0h0M952.9 820.8h0M940.8 797.4h0M967.6 751.7h0M936.0 827.8h0M914.2 690.5h0M940.5 877.7h0M975.9 729.2h0M950.4 863.3h0M1002.4 728.6h0M918.5 847.7h0M935.9 739.9h0"/>
<path stroke="#E38900" d="M899.6 260.6h0M869.8 131.0h0M807.7 164.0h0M845.9 217.0h0M861.7 239.1h0M888.2 78.3h0M892.7 252.5h0M876.6 266.0h0M813.3 169.8h0M874.0 144.3h0M810.9 161.0h0M905.5 218.1h0M835.6 102.6h0M906.4 254.4h0M837.4 210.8h0M876.8 56.4h0M849.6 103.5h0M891.9 209.7h0M889.3 119.1h0M902.1 125.5h0M841.4 96.4h0M894.2 64.2h0M943.8 170.7h0M820.4 174.5h0M872.4 72.7h0M823.1 101.9h0M883.1 142.7h0M899.3 82.2h0M940.0 294.6h0M834.4 211.5h0M826.9 181.0h0M887.8 264.5h0M871.9 76.7h0M819.8 129.3h0M893.2 145.8h0M812.3 163.8h0M846.1 152.6h0M833.5 105.3h0M854.4 244.7h0M813.4 144.0h0M907.8 248.0h0M844.7 448.6h0M805.7 171.2h0M812.9 198.6h0M881.0 242.2h0M884.1 63.3h0M814.5 150.1h0M864.3 215.5h0M866.7 268.9h0M884.3 283.4h0M971.8 344.5h0M818.1 171.3h0M823.4 225.1h0M840.7 102.2h0M833.0 172.9h0M902.4 114.5h0M856.7 226.9h0M860.5 159.3h0M889.6 63.2h0M855.5 149.5h0M821.6 117.1h0M862.0 126.6h0M812.6 173.0h0M801.8 169.6h0M850.0 78.3h0M893.2 76.2h0M862.8 136.7h0M919.5 242.4h0M868.7 60.6h0M842.8 104.2h0M826.0 107.3h0M817.0 164.7h0M886.6 122.9h0M925.3 290.6h0M875.9 82.7h0M846.3 77.5h0M905.8 72.3h0M839.7 209.3h0M906.9 238.6h0M842.1 120.0h0M835.5 209.3h0M858.4 219.8h0M873.5 95.3h0M855.1 259.8h0M824.0 194.8h0M844.1 287.1h0M844.7 108.0h0M916.0 120.8h0M905.6 79.7h0M877.3 276.9h0M914.3 256.8h0M892.8 203.6h0M910.1 258.3h0M868.1 87.6h0M863.7 191.5h0M832.0 98.1h0M894.1 89.7h0M850.2 256.5h0M877.1 97.9h0M842.8 183.5h0M847.8 118.4h0M834.8 164.6h0M903.0 238.6h0M859.4 186.7h0M919.2 102.7h0M893.0 130.5h0M906.4 258.2h0M847.0 99.1h0M882.7 137.9h0M879.4 86.9h0M893.0 249.2h0M866.0 224.4h0M910.2 212.0h0M838.6 169.5h0M825.0 228.7h0M809.8 205.8h0M876.8 280.6h0M843.6 255.0h0M898.6 93.2h0M905.3 128.4h0M856.2 124.8h0M844.6 75.6h0M871.4 92.7h0M808.9 169.2h0M888.1 241.7h0M866.2 196.3h0M876.0 120.7h0M895.8 207.9h0M874.3 205.2h0M890.3 255.5h0M856.8 60.1h0M805.1 146.4h0M856.3 107.1h0M906.5 103.5h0M816.7 144.7h0M851.3 152.2h0M916.8 269.0h0M842.1 160.2h0M933.3 259.3h0M866.9 109.3h0M879.2 74.7h0M853.0 213.2h0M886.3 67.8h0M810.8 209.2h0M835.0 213.9h0M918.4 256.2h0M851.0 222.8h0M862.4 100.3h0M895.0 113.4h0M890.2 78.9h0M901.8 235.1h0M869.4 192.3h0M824.2 160.1h0M891.0 97.3h0M846.7 232.1h0M879.3 240.7h0M853.2 154.1h0M880.6 173.8h0M799.5 164.1h0M934.0 301.7h0M879.1 108.3h0M849.7 236.8h0M866.2 96.4h0M872.6 65.5h0M830.9 265.6h0M851.9 66.2h0M878.6 99.4h0M886.4 88.8h0M908.4 223.9h0M881.2 108.8h0M909.3 87.5h0M919.4 219.2h0M887.5 187.9h0M847.1 207.5h0M829.4 161.6h0M864.7 261.7h0M831.0 102.9h0M845.8 82.1h0M834.7 85.9h0M806.2 192.4h0M830.0 121.9h0M818.5 168.0h0M845.5 185.8h0M882.3 186.7h0M799.1 161.1h0M876.4 161.1h0M842.2 157.2h0M822.6 178.7h0M824.6 123.8h0M873.7 127.4h0M846.7 113.8h0M902.9 258.9h0M810.1 202.9h0M913.9 111.8h0M873.0 102.1h0M874.9 157.7h0M816.5 215.4h0M832.1 137.0h0M831.0 229.9h0M876.9 79.2h0M864.5 159.8h0M807.4 186.8h0M824.3 108.8h0M859.0 129.1h0M854.1 167.5h0M815.2 136.8h0M875.1 109.3h0M851.0 221.1h0M805.0 159.5h0M888.2 136.8h0M856.1 239.2h0M888.6 99.2h0M869.5 57.3h0M873.5 58.9h0M840.5 122.9h0M861.1 142.9h0M900.0 95.7h0M869.5 219.3h0M864.5 76.4h0M892.3 77.6h0M816.6 129.1h0M866.9 151.3h0M858.5 190.6h0M867.0 201.1h0M901.4 219.3h0M860.5 163.7h0M848.7 96.5h0M887.3 58.6h0"/>
<path stroke="#53B400" d="M234.0 604.0h0M238.5 560.9h0M213.4 674.1h0M168.2 705.3h0M247.1 553.2h0M202.8 699.9h0M178.0 734.4h0M310.0 485.4h0M151.6 649.8h0M228.3 665.9h0M215.7 640.0h0M183.5 644.3h0M180.1 674.5h0M173.5 735.5h0M200.1 648.7h0M148.1 630.7h0M202.6 686.2h0M273.0 537.5h0M154.5 663.1h0M181.6 696.2h0M258.4 553.4h0M161.0 627.2h0M199.2 671.9h0M182.5 673.7h0M151.6 663.7h0M275.0 582.5h0M203.4 608.6h0M314.3 486.2h0M240.3 631.8h0M292.0 479.5h0M241.3 558.1h0M249.8 582.8h0M198.1 656.3h0M170.9 645.0h0M213.3 647.8h0M236.3 657.1h0M219.2 628.8h0M161.9 620.7h0M240.3 554.1h0M227.9 649.4h0M331.1 466.6h0M214.2 643.2h0M168.5 627.2h0M335.8 463.2h0M210.5 633.4h0M200.3 633.8h0M181.2 638.0h0M210.3 644.5h0M201.4 671.3h0M304.2 583.0h0M156.6 689.8h0M164.5 617.1h0M170.9 686.6h0M206.8 629.9h0M154.9 651.6h0M154.8 654.8h0M246.1 561.1h0M147.4 654.2h0M156.7 663.8h0M176.7 715.4h0M163.1 624.1h0M157.7 684.1h0M155.5 687.3h0M232.2 668.2h0M165.9 660.5h0M298.6 505.1h0M249.2 545.9h0M186.4 694.2h0M198.1 614.9h0M229.3 580.9h0M215.3 667.8h0M155.2 615.9h0M152.6 632.0h0M165.4 644.0h0M184.4 625.0h0M244.0 604.1h0M163.1 698.3h0M153.8 687.3h0M202.5 603.3h0M149.5 666.4h0M319.6 479.4h0M274.5 541.2h0M238.4 615.7h0M204.9 683.2h0M251.4 612.6h0M198.7 679.5h0M233.0 586.4h0M158.4 615.9h0M174.3 619.0h0M144.1 654.9h0M276.2 523.8h0M164.7 658.1h0M184.3 717.1h0M224.3 595.2h0M156.6 695.7h0M168.6 625.5h0M210.0 733.8h0M184.6 670.1h0M208.1 615.6h0M165.3 638.9h0M187.0 653.6h0M310.0 487.5h0M256.6 549.2h0M248.5 562.3h0M219.0 663.9h0M207.9 685.2h0M342.8 443.8h0M316.7 484.2h0M298.7 501.2h0M177.9 710.8h0M287.0 517.5h0M172.8 640.8h0M192.7 653.2h0M214.3 675.9h0M188.8 676.6h0M180.6 654.1h0M186.5 681.1h0M213.6 616.7h0M188.4 707.7h0M203.9 615.8h0M260.0 595.3h0M302.1 498.9h0M243.5 556.8h0M193.3 671.9h0M173.6 726.8h0M225.6 671.8h0M304.0 494.0h0M172.1 657.6h0M149.5 647.9h0M314.6 488.7h0M221.8 646.5h0"/>
<path stroke="#06A4FF" d="M374.8 823.9h0M372.8 878.9h0M369.9 869.9h0M351.2 805.5h0M353.1 861.5h0M377.6 856.6h0M361.8 869.3h0M338.5 862.2h0M350.8 835.6h0M359.9 864.0h0M385.6 859.1h0M322.5 838.0h0M343.4 796.2h0M347.4 802.4h0M351.5 888.9h0M361.0 881.4h0M371.3 812.2h0M368.8 837.5h0M376.0 879.8h0M360.6 849.7h0M363.7 862.2h0M377.9 817.6h0M350.3 801.2h0M357.5 816.2h0M358.2 851.0h0M359.1 805.8h0M356.8 893.3h0M357.5 856.6h0M865.0 363.9h0M355.1 898.4h0M347.3 850.9h0M361.9 807.7h0"/>
<path stroke="#00C094" d="M950.0 371.9h0M928.1 381.5h0M948.4 356.6h0M843.5 301.3h0M939.5 358.5h0M902.4 384.9h0M923.0 324.1h0M897.5 376.8h0M893.9 345.7h0M915.7 362.7h0M968.3 279.9h0M844.3 298.2h0M916.9 380.7h0M945.6 357.3h0M912.4 329.8h0M917.7 383.7h0M863.1 310.4h0M879.0 360.1h0M851.8 311.6h0M931.4 398.0h0M859.5 337.8h0M845.4 302.1h0M948.4 323.1h0M909.1 344.4h0M953.1 373.6h0M858.5 330.5h0M950.3 361.5h0M928.7 392.2h0M938.4 391.2h0M935.8 377.8h0M849.3 273.3h0M942.7 377.2h0M960.8 366.5h0M867.2 318.7h0M855.1 296.5h0M940.0 395.0h0M981.9 299.8h0M926.1 342.3h0M929.3 362.2h0M912.3 333.2h0M925.5 376.3h0M914.2 350.7h0M955.7 370.9h0M938.5 379.5h0M949.4 325.2h0M860.6 341.9h0M919.2 377.0h0M898.0 339.8h0M919.4 360.8h0M851.1 278.3h0M857.2 315.5h0M899.2 354.8h0M853.8 305.4h0M920.5 391.3h0M967.6 291.3h0M922.5 361.6h0M924.5 382.7h0M911.4 377.3h0M885.0 373.5h0M944.3 367.5h0M908.4 376.7h0M940.9 377.2h0M883.1 354.8h0M850.9 320.7h0M869.5 333.7h0M940.0 348.7h0M884.2 376.7h0M852.2 317.5h0M872.7 338.3h0M947.4 370.0h0M907.0 429.7h0M974.8 305.7h0M850.4 298.8h0M854.4 310.0h0M860.7 327.8h0M932.2 363.5h0M851.2 385.8h0M894.5 350.1h0M927.3 364.2h0M944.9 348.3h0M927.3 335.0h0M913.0 414.3h0M914.9 383.0h0M868.9 369.7h0M961.8 371.6h0M865.9 308.4h0M988.2 282.7h0M892.2 360.1h0M974.6 347.3h0M954.0 369.1h0M936.7 335.7h0M947.3 314.7h0M987.3 299.5h0"/>
<path stroke="#FB61D7" d="M676.8 611.2h0M667.8 617.6h0M661.5 618.9h0M664.6 624.3h0M667.5 624.2h0M661.0 622.4h0M665.2 619.9h0M690.4 597.7h0M697.2 590.7h0M687.2 600.2h0M676.0 612.2h0M666.1 616.4h0M674.5 613.8h0M699.6 588.6h0"/>
<path stroke="#00BFC4" d="M762.0 785.9h0M764.8 779.6h0M788.2 771.1h0M815.1 840.6h0M765.6 845.8h0M723.9 795.7h0M646.7 849.9h0M756.3 837.7h0M744.6 824.3h0M749.7 809.9h0M646.4 829.6h0M736.3 828.0h0M778.6 706.3h0M781.7 702.0h0M696.0 786.0h0M637.4 833.4h0M628.2 843.4h0M739.2 786.1h0M654.7 840.8h0M701.3 807.7h0M763.2 784.2h0M785.6 764.2h0M742.5 826.4h0M739.1 783.3h0M774.9 852.9h0M754.4 836.0h0M716.6 798.8h0M713.3 827.2h0M795.0 758.8h0M647.3 842.7h0M666.2 624.0h0M752.7 769.2h0M783.3 759.7h0M626.0 848.6h0M739.7 811.5h0M766.8 725.8h0M638.3 848.7h0M741.0 800.8h0M752.5 842.0h0M771.2 773.3h0M683.3 839.9h0M698.6 832.0h0M610.7 835.7h0M750.4 797.9h0M798.5 846.0h0M675.9 844.1h0M630.7 844.9h0M755.0 737.2h0M783.8 697.0h0M777.6 847.2h0M650.0 834.3h0M764.2 845.0h0M658.0 843.7h0M633.0 851.4h0M791.9 837.5h0M747.3 811.8h0M634.4 841.4h0M794.3 757.0h0M636.5 827.1h0M762.6 845.2h0M718.7 809.8h0M639.5 844.2h0M792.3 772.0h0M737.1 819.2h0M686.7 823.3h0M765.5 850.8h0M765.6 840.7h0"/>
<path stroke="#00BC56" d="M943.0 127.0h0M888.9 273.7h0M927.0 149.1h0M959.7 231.8h0M946.5 260.9h0M975.5 244.2h0M955.1 189.3h0M914.7 309.3h0M969.6 143.5h0M924.6 199.7h0M998.5 236.4h0M908.7 296.4h0M985.3 281.4h0M965.4 141.8h0M844.7 252.3h0M974.9 275.8h0M886.8 286.4h0M943.6 272.1h0M908.8 246.5h0M951.8 231.2h0M1002.3 255.8h0M966.5 212.5h0M940.5 236.0h0M969.8 218.2h0M914.8 293.5h0M932.9 186.7h0M892.7 267.0h0M788.4 764.0h0M996.1 199.0h0M1002.5 242.1h0M982.0 237.1h0M951.2 210.0h0M991.5 244.2h0M990.6 148.9h0M956.5 203.3h0M951.7 257.8h0M986.8 161.5h0M941.7 230.2h0M935.3 270.5h0M897.2 152.0h0M998.1 213.5h0M968.3 137.7h0M944.7 245.2h0M1007.5 247.1h0M936.4 225.5h0M1000.4 280.2h0M949.1 283.7h0M931.0 184.7h0M933.4 268.8h0M884.0 282.5h0M992.7 239.3h0M983.2 160.0h0M788.2 764.0h0M993.2 281.2h0M923.0 188.6h0M993.8 257.2h0M974.9 156.3h0M985.6 285.5h0M939.0 250.0h0M985.0 250.6h0M940.5 251.9h0M963.4 229.2h0M923.3 269.4h0M948.6 142.8h0M964.2 138.9h0M934.0 206.5h0M968.8 173.8h0M953.8 143.5h0M937.6 202.2h0M946.2 263.1h0M983.3 185.6h0M932.2 100.7h0M1000.3 277.3h0M948.7 263.7h0M982.0 257.2h0M970.7 281.4h0M939.5 264.1h0M984.3 277.4h0M950.7 148.1h0M996.1 247.9h0M974.5 137.2h0M964.4 256.4h0M1002.5 288.7h0M949.8 241.2h0M883.1 274.5h0M974.8 285.0h0M981.7 206.7h0M981.3 182.4h0M957.2 132.3h0M974.3 131.4h0M979.7 160.4h0M892.3 287.2h0M989.0 139.9h0M963.1 150.7h0M988.7 290.3h0M973.6 154.1h0M923.5 183.1h0M920.6 144.9h0M936.7 207.2h0M984.9 164.1h0M864.5 248.2h0M952.2 132.6h0M942.1 247.1h0M962.9 244.3h0M973.8 146.8h0M948.3 233.2h0M895.4 266.7h0M954.9 231.8h0M922.4 194.0h0M951.9 241.2h0M968.8 229.3h0M830.8 825.9h0M989.3 273.7h0M932.0 266.1h0M947.4 219.4h0M992.6 143.7h0M983.1 255.9h0M966.4 138.7h0M987.9 138.5h0M931.3 172.0h0M865.7 247.7h0M840.0 248.9h0"/>
<path stroke="#FF66A8" d="M666.0 748.7h0M667.3 752.3h0M684.3 779.7h0M664.9 751.9h0M666.2 751.8h0"/>
<path stroke="#00B6EB" d="M850.1 451.8h0M901.2 576.3h0M888.7 602.6h0M859.3 514.0h0M906.1 631.2h0M891.1 581.5h0M886.4 627.2h0M878.5 487.7h0M883.5 437.6h0M860.6 483.6h0M887.8 677.7h0M880.5 637.0h0M898.5 603.0h0M909.4 597.2h0M897.7 455.4h0M894.4 403.3h0M853.4 489.6h0M890.0 611.3h0M867.2 468.5h0M875.1 494.3h0M881.4 656.2h0M882.2 590.3h0M883.1 458.7h0M882.8 621.7h0M886.4 629.0h0M894.4 614.8h0M892.9 596.1h0M898.6 597.1h0M885.5 543.8h0M889.1 646.0h0M856.2 515.6h0M905.9 649.7h0M897.0 577.6h0M882.5 479.0h0M940.6 663.1h0M847.5 515.6h0M859.8 512.0h0M868.1 512.4h0M870.3 539.6h0M880.9 639.5h0M897.5 568.6h0M879.4 589.0h0M899.3 474.8h0M911.0 637.1h0M879.8 633.5h0M919.9 640.0h0M888.5 622.2h0M896.0 672.3h0M941.5 633.3h0M900.2 454.6h0M907.7 469.4h0M854.2 524.9h0M895.0 580.7h0M883.0 558.0h0M859.3 508.2h0M876.3 475.3h0M878.1 641.3h0M596.2 581.5h0M904.6 469.6h0M901.1 597.1h0M895.7 472.5h0M872.0 495.9h0M887.2 596.3h0M854.6 521.3h0M887.8 636.6h0M891.0 579.2h0M853.3 515.9h0M880.3 450.8h0M884.3 619.5h0M896.6 460.3h0M898.5 446.5h0M916.8 612.8h0M865.8 480.5h0M855.7 517.4h0M894.0 622.0h0M896.3 451.7h0M905.4 622.6h0M881.5 485.7h0M960.8 636.7h0M889.3 443.0h0M869.6 523.5h0M902.3 599.4h0M884.9 448.3h0M849.1 518.0h0M883.5 585.4h0M879.7 490.1h0M872.2 499.0h0M883.4 602.1h0M885.7 600.5h0"/>
<path stroke="#DF70F8" d="M854.0 871.9h0M837.3 873.7h0M615.5 544.3h0M585.4 631.7h0M839.0 868.8h0M580.9 601.5h0M578.6 606.4h0M616.6 542.1h0M616.4 542.5h0M574.2 608.5h0M585.6 634.6h0M617.7 539.7h0M583.4 605.6h0M581.7 627.1h0M575.6 602.5h0M831.1 870.2h0M617.8 541.2h0M609.5 557.5h0M575.4 604.1h0M574.8 611.9h0"/>
<path stroke="#A58AFF" d="M229.3 762.5h0M287.4 839.0h0M308.8 774.5h0M325.0 787.5h0M251.5 785.9h0M260.3 819.9h0M289.6 833.5h0M298.8 733.8h0M235.5 738.2h0M251.5 771.0h0M285.6 829.0h0M270.7 826.6h0M254.1 766.6h0M279.3 835.8h0M297.5 805.8h0M289.4 752.2h0M265.5 820.3h0M220.4 758.7h0M290.3 736.2h0M249.4 783.7h0M249.7 779.6h0M287.7 745.5h0M217.5 740.0h0M312.5 776.2h0M253.2 795.0h0M268.5 763.9h0M296.1 759.3h0M288.1 763.3h0M282.9 748.8h0M266.3 824.8h0M221.5 755.0h0M260.6 765.0h0M306.2 837.5h0M251.0 768.2h0M216.2 735.0h0M287.6 760.4h0M308.8 841.2h0M259.2 740.5h0M291.4 748.1h0"/>
<path stroke="#F8766D" d="M259.0 406.8h0M355.4 330.3h0M188.2 389.8h0M331.8 404.4h0M201.8 467.8h0M274.4 321.8h0M304.8 294.9h0M169.7 375.2h0M182.2 408.2h0M306.1 484.4h0M282.9 328.6h0M320.2 411.0h0M328.8 412.1h0M193.6 429.9h0M331.8 335.2h0M321.1 304.3h0M282.8 411.4h0M260.2 378.7h0M254.1 455.9h0M189.2 363.8h0M267.0 305.5h0M310.2 509.2h0M267.8 481.1h0M290.6 414.9h0M194.7 439.7h0M173.7 383.5h0M176.3 395.7h0M316.7 371.2h0M164.0 376.6h0M293.8 297.0h0M329.8 321.5h0M258.8 363.1h0M332.3 329.2h0M254.6 371.3h0M318.3 292.4h0M325.9 437.1h0M179.7 434.0h0M161.1 419.6h0M187.4 444.3h0M162.2 432.6h0M184.3 422.1h0M325.4 456.5h0M297.0 347.8h0M175.0 408.0h0M154.5 403.5h0M320.4 422.2h0M326.2 329.8h0M190.5 375.9h0M162.1 426.0h0M287.8 461.7h0M195.8 395.5h0M350.6 376.1h0M200.0 322.6h0M281.8 460.4h0M344.2 372.2h0M250.9 496.0h0M307.7 308.3h0M148.6 380.6h0M318.6 434.6h0M255.1 328.8h0M189.1 429.1h0M192.0 461.7h0M313.5 342.4h0M251.2 444.6h0M184.5 440.6h0M237.8 328.7h0M177.7 359.2h0M256.9 345.4h0M209.4 452.8h0M330.1 335.6h0M250.3 432.1h0M302.8 336.9h0M228.2 451.3h0M291.0 382.2h0M356.6 337.6h0M282.5 400.8h0M290.6 346.9h0M349.7 329.1h0M311.7 469.7h0M314.2 421.3h0M249.6 351.1h0M232.9 454.5h0M334.2 418.3h0M156.1 408.9h0M224.7 364.3h0M332.1 373.6h0M197.3 459.9h0M170.4 385.3h0M290.5 426.1h0M294.7 458.6h0M305.1 298.7h0M336.6 362.4h0M337.0 295.8h0M221.7 405.2h0M356.8 341.8h0M268.2 483.5h0M150.8 387.9h0M333.9 330.1h0M182.6 390.0h0M193.0 446.1h0M196.3 354.8h0M157.6 389.7h0M213.5 415.9h0M288.7 464.0h0M230.9 403.0h0M191.2 433.8h0M257.5 793.8h0M326.9 404.8h0M187.7 416.7h0M279.3 346.9h0M211.5 453.0h0M235.3 480.3h0M189.0 425.4h0M264.7 422.3h0M273.4 390.6h0M358.7 336.7h0M292.5 843.8h0M182.7 425.8h0M161.7 401.1h0M339.0 311.4h0M318.7 335.1h0M238.7 421.6h0M194.8 422.5h0M274.8 358.8h0M299.3 370.1h0M319.9 479.9h0M244.8 489.6h0M258.6 343.9h0M335.5 419.7h0M332.4 343.2h0M283.4 323.7h0M194.3 442.9h0M270.5 366.9h0M346.2 485.0h0M206.7 461.6h0M221.7 398.1h0M302.2 492.9h0M197.4 403.7h0M152.3 391.0h0M143.9 398.5h0M348.8 394.0h0M171.9 413.2h0M254.4 350.5h0M320.5 365.6h0M173.0 406.0h0M327.5 386.1h0M334.4 340.5h0M261.9 428.5h0M294.1 344.0h0M277.5 341.4h0M176.4 401.0h0M201.2 470.2h0M241.2 335.5h0M276.4 499.7h0M169.9 419.6h0M257.5 503.0h0M232.5 351.8h0M180.9 409.8h0M284.3 367.0h0M163.8 418.4h0M313.4 328.8h0M325.6 297.1h0M253.7 346.8h0M333.7 356.4h0M306.8 375.6h0M345.4 390.2h0M318.0 341.6h0M155.8 388.6h0M343.8 890.0h0M156.2 393.3h0M307.3 412.3h0M333.0 467.1h0M239.5 495.6h0M342.0 340.8h0M161.8 417.6h0M281.9 309.5h0M333.4 338.0h0M237.1 423.2h0M222.3 356.9h0M319.0 429.2h0M297.6 463.1h0M262.4 332.6h0M187.8 351.8h0M344.5 333.4h0M301.1 405.3h0M230.9 408.2h0M168.8 379.6h0M350.9 432.9h0M328.1 425.4h0M313.3 433.2h0M250.9 349.5h0M304.8 411.5h0M181.9 411.5h0M309.5 508.9h0M257.4 364.7h0M270.0 331.0h0M306.5 430.5h0M203.7 339.9h0M213.9 459.4h0M355.5 322.6h0M259.2 384.4h0M168.4 428.9h0M252.5 387.4h0M328.6 319.0h0M246.6 322.6h0M330.7 454.2h0M339.5 381.7h0M263.8 502.5h0M177.3 433.1h0M266.5 461.5h0M212.0 324.2h0M361.0 319.8h0M176.3 439.5h0M338.2 326.3h0M227.9 439.2h0M314.0 449.3h0M178.0 385.2h0M196.3 432.9h0M200.3 397.7h0M322.3 313.1h0M341.3 420.6h0M236.1 346.7h0M285.3 379.7h0M331.2 553.0h0M250.0 406.2h0M318.5 427.5h0M310.9 291.5h0M235.9 374.2h0M250.8 336.7h0M304.9 304.1h0M312.0 494.9h0M208.6 341.3h0M310.2 331.6h0M330.5 293.9h0M286.3 412.8h0M279.7 327.4h0M204.8 352.2h0M316.7 446.9h0M221.7 336.4h0M254.2 334.0h0M240.4 467.3h0M320.6 466.9h0M269.1 349.7h0M251.1 439.8h0M261.6 376.3h0M224.8 462.1h0M208.1 458.0h0M226.8 461.2h0M330.4 343.1h0M321.5 459.4h0M207.8 440.3h0M194.7 458.6h0M179.4 430.8h0M345.7 438.9h0M233.3 400.8h0M206.3 477.7h0M260.4 325.8h0M313.4 439.6h0M303.3 366.9h0M324.9 385.1h0M204.8 333.9h0M341.3 443.0h0M347.7 307.1h0M249.0 383.4h0M329.2 347.8h0M287.3 291.1h0M284.2 346.8h0M333.5 333.3h0M310.9 486.7h0M242.8 374.9h0M272.3 407.1h0M330.8 456.9h0M261.6 410.0h0M218.0 347.9h0M201.2 701.2h0M231.2 372.0h0M276.2 731.8h0M261.6 419.6h0M217.1 458.9h0M244.0 493.5h0M249.9 473.8h0M279.1 465.2h0M338.9 423.1h0M280.9 338.8h0M293.9 500.1h0M305.7 438.6h0M316.0 440.8h0M256.3 384.7h0M263.0 492.1h0M260.3 395.8h0M332.4 364.2h0M232.5 448.7h0M235.5 395.6h0M279.9 317.3h0M289.0 343.1h0M326.5 420.2h0M353.0 588.0h0M150.1 407.7h0M351.1 382.0h0M293.4 328.7h0M289.3 497.4h0M297.7 349.7h0M358.4 330.6h0M319.4 493.2h0M337.0 504.5h0M320.7 301.6h0M338.9 304.2h0M260.4 404.3h0M276.6 379.4h0"/>
<path stroke="#C49A00" d="M984.6 796.4h0M955.2 791.4h0M944.3 892.4h0M952.5 765.2h0M966.9 799.0h0M956.4 854.7h0M957.0 768.2h0M929.0 775.8h0M912.1 825.6h0M991.9 716.2h0M939.2 738.7h0M922.6 794.1h0M924.4 760.6h0M993.1 798.5h0M944.7 793.7h0M987.0 852.6h0M917.2 862.7h0M941.6 841.4h0M957.6 725.0h0M936.5 816.8h0M955.2 867.5h0M994.2 714.3h0M893.8 850.7h0M989.6 721.7h0M936.3 772.4h0M906.5 624.3h0M902.7 885.2h0M940.3 675.7h0M905.6 730.4h0M969.4 838.3h0M937.4 706.1h0M961.4 765.0h0M904.2 733.2h0M986.9 851.0h0M916.7 889.6h0M895.0 838.0h0M855.5 842.0h0M931.4 818.6h0M897.5 868.9h0M998.5 812.6h0M971.9 765.1h0M980.2 780.7h0M950.1 833.0h0M896.1 774.4h0M889.3 801.3h0M945.3 692.5h0M977.9 801.6h0M914.0 810.5h0M934.3 744.7h0M984.7 771.8h0M909.8 783.9h0M907.2 729.7h0M930.2 894.3h0M958.1 806.0h0M961.4 819.3h0M979.8 847.2h0M879.0 870.5h0M884.2 868.5h0M884.0 802.0h0M928.3 783.1h0M898.5 725.5h0M979.9 750.2h0M869.6 846.7h0M957.4 760.0h0M897.7 850.2h0M997.5 737.1h0M844.6 854.1h0M975.9 800.2h0M990.0 825.8h0M953.2 849.1h0M983.2 703.2h0M923.7 724.3h0M957.2 722.9h0M900.7 867.3h0M972.3 718.6h0M945.1 843.0h0M963.5 891.7h0M958.5 674.5h0M942.4 775.6h0M993.1 785.2h0M924.8 896.2h0M959.6 711.4h0M989.1 768.4h0M968.4 741.6h0M912.7 749.2h0M926.8 732.2h0M948.1 716.9h0M979.1 785.8h0M977.1 823.0h0M921.9 883.8h0M882.3 800.2h0M975.3 815.7h0M936.3 695.6h0M915.4 835.6h0M915.5 749.1h0M974.8 779.8h0M936.5 784.8h0M915.3 892.8h0M891.6 816.0h0M979.2 769.9h0M880.6 873.0h0M948.1 822.8h0M918.7 856.7h0M990.5 751.7h0M967.9 696.6h0M905.7 683.9h0M938.6 835.0h0M953.8 719.1h0M902.8 849.6h0M940.6 834.1h0M971.8 665.2h0M981.2 802.4h0M973.7 870.5h0M963.4 769.3h0M841.7 840.4h0M990.2 762.5h0M926.7 776.3h0M942.4 707.5h0M969.8 725.6h0M991.5 693.6h0M927.6 828.2h0M961.0 747.0h0M918.4 808.7h0M959.6 884.2h0M978.3 739.6h0M862.6 858.6h0M965.2 750.7h0M949.4 797.5h0M877.6 840.7h0M968.3 810.9h0M956.1 747.9h0M882.7 817.9h0M904.2 763.1h0M853.7 853.3h0M982.9 780.0h0M942.7 787.9h0M841.4 834.5h0M918.2 873.4h0M973.9 754.7h0M938.6 862.5h0M979.3 722.9h0M935.2 681.5h0M956.9 836.6h0M990.9 770.4h0M892.6 877.9h0M926.9 781.7h0M907.1 676.6h0M1000.4 778.4h0M963.4 804.0h0M924.8 790.9h0M986.1 701.5h0M890.1 838.5h0M966.7 875.6h0M994.8 731.7h0M919.4 777.8h0M899.8 713.3h0M920.7 872.4h0M931.2 873.7h0M983.9 693.1h0M918.6 880.6h0M902.7 877.8h0M946.2 865.9h0M893.5 783.2h0M913.5 820.9h0M938.7 876.1h0M909.2 830.3h0M922.0 764.2h0M838.6 825.2h0M917.5 844.8h0M943.0 882.5h0M980.3 701.1h0M980.3 693.8h0M948.5 773.7h0M919.6 829.6h0M936.2 788.4h0M939.2 797.9h0M955.6 783.5h0M984.0 810.8h0M917.0 733.4h0M908.6 817.7h0M988.9 809.8h0M942.8 752.2h0M883.7 807.3h0M894.1 734.9h0M960.2 734.9h0M970.5 696.4h0M939.0 721.7h0M934.6 881.2h0M953.0 888.0h0M968.1 873.1h0M941.5 784.5h0M942.4 804.6h0M916.2 825.6h0M857.7 869.5h0M861.0 834.5h0M952.2 747.5h0M911.0 762.5h0M979.4 747.9h0M886.6 832.4h0M891.2 889.0h0M921.1 710.5h0M894.8 781.6h0M956.5 803.5h0M944.3 753.4h0M927.0 813.6h0M978.7 819.7h0M871.9 858.3h0M997.2 782.0h0M903.2 861.8h0M992.8 720.5h0M938.1 883.8h0M903.6 881.8h0M922.4 881.8h0M984.0 686.4h0M912.1 713.1h0M830.3 845.4h0M929.8 793.2h0"/>
<path stroke="#00BC56" d="M957.1 234.8h0M981.8 231.2h0M1000.6 236.8h0M1008.5 272.3h0M968.3 154.2h0M919.2 148.5h0M981.2 247.1h0M939.9 248.0h0M936.7 160.9h0M958.1 226.2h0M956.5 141.5h0M858.0 455.9h0M820.3 839.2h0M982.9 193.2h0M988.7 181.6h0M958.0 205.4h0M978.4 176.7h0M977.9 182.5h0M970.4 194.7h0M923.2 263.0h0M954.7 248.9h0M995.7 288.9h0M962.6 269.6h0M925.4 206.3h0M1001.6 244.5h0M877.3 273.3h0M974.8 272.1h0M971.7 236.6h0M922.8 99.5h0M945.8 231.6h0M932.4 157.0h0M1004.7 261.8h0M960.5 161.9h0M1008.5 240.5h0M923.4 247.5h0M815.0 815.1h0M982.9 249.7h0M942.8 270.1h0M807.8 130.3h0M941.2 211.5h0M978.6 135.9h0M957.8 228.7h0M901.6 298.1h0M940.3 148.9h0M906.1 274.0h0M964.6 160.3h0M881.4 285.5h0M1004.0 266.8h0M900.0 313.5h0M986.6 214.8h0M965.1 234.3h0M937.2 128.1h0M980.4 224.6h0M896.9 297.3h0M996.2 207.3h0M946.8 177.0h0M945.6 217.1h0M861.0 465.0h0M919.2 137.0h0M973.5 151.4h0M984.2 154.8h0M946.1 243.2h0M972.6 279.1h0M973.9 242.4h0M934.4 265.9h0M967.7 225.4h0M821.3 853.9h0M950.6 267.2h0M874.7 278.7h0M953.0 154.8h0M848.2 856.2h0M990.0 141.2h0M973.1 268.6h0M949.9 254.2h0M1000.0 255.6h0M957.4 180.3h0M967.9 157.4h0M977.8 240.5h0M950.5 164.2h0M953.5 137.2h0M979.2 151.8h0M975.9 162.0h0M1005.6 204.0h0M946.9 157.7h0M912.3 170.6h0M1011.3 241.5h0M859.8 261.7h0M950.9 145.8h0M994.2 176.7h0M847.9 856.2h0M950.6 191.7h0M996.3 201.1h0M966.9 162.0h0M933.7 241.1h0M922.0 178.9h0M960.4 270.4h0M941.2 203.1h0M950.9 235.2h0M889.2 277.4h0M951.9 265.0h0M914.5 143.6h0M990.7 222.4h0M979.3 146.5h0M957.4 231.8h0M939.5 141.6h0M974.6 182.4h0M994.1 216.0h0M995.1 291.9h0M993.4 199.8h0M960.7 191.0h0M956.2 220.1h0M949.6 184.2h0M958.1 155.0h0M945.1 145.5h0M907.0 148.5h0M955.0 272.3h0M980.6 203.4h0M886.0 126.8h0M981.9 285.8h0M965.3 133.3h0M915.1 283.4h0M979.0 149.8h0M977.0 158.6h0M956.0 227.0h0"/>
<path stroke="#06A4FF" d="M362.6 856.5h0M349.1 843.7h0M303.0 853.2h0M370.2 882.9h0M361.6 867.0h0M297.5 848.2h0M367.1 869.0h0M356.1 807.3h0M366.8 862.2h0M361.8 899.5h0M376.2 818.5h0M347.4 898.1h0M355.1 880.8h0M367.5 877.0h0M381.5 866.2h0M367.3 865.1h0M350.5 881.1h0M343.1 895.1h0M360.7 865.5h0M357.5 865.4h0M318.8 844.2h0M634.1 838.5h0M380.5 873.9h0M342.0 798.3h0M359.7 861.7h0M361.8 863.3h0M363.6 853.1h0M376.9 872.3h0M343.8 810.0h0M361.9 859.7h0M880.1 352.2h0M341.5 894.4h0M385.5 865.5h0M360.5 858.0h0M377.1 869.8h0M346.2 817.0h0M340.9 799.7h0M350.2 876.2h0M361.4 887.7h0M354.5 896.0h0M373.8 882.3h0M344.9 794.7h0M374.1 815.5h0M354.7 797.9h0M347.6 887.6h0M352.9 799.7h0M345.6 812.3h0M361.9 891.5h0M343.0 802.9h0M376.2 837.5h0M364.3 880.6h0M345.8 808.4h0M350.8 901.3h0M353.8 879.6h0M374.5 864.2h0"/>
<path stroke="#99A800" d="M384.7 579.4h0M277.9 663.2h0M366.9 672.2h0M406.8 558.5h0M318.2 677.9h0M328.3 668.6h0M342.1 682.1h0M318.4 556.0h0M382.6 667.4h0M332.2 584.5h0M351.6 513.4h0M376.7 616.9h0M386.9 577.5h0M389.3 579.6h0M841.2 416.6h0M296.3 658.2h0M398.7 584.7h0M377.8 507.7h0M271.2 502.2h0M405.0 556.4h0M332.9 657.2h0M359.9 655.3h0M392.1 559.7h0M349.2 659.6h0M374.5 592.7h0M385.3 504.0h0M309.5 546.1h0M382.8 549.6h0M262.5 679.9h0M388.3 545.0h0M327.9 681.1h0M384.8 646.8h0M302.4 659.7h0M347.3 681.9h0M393.5 619.5h0M331.9 681.7h0M310.5 686.6h0M372.0 654.2h0M344.1 637.9h0M400.0 576.0h0M251.1 650.8h0M398.7 581.6h0M400.6 552.4h0M372.5 533.7h0M369.5 654.3h0M396.9 594.2h0M289.1 669.2h0M382.2 508.1h0M389.3 652.3h0M292.8 659.0h0M372.5 628.1h0M264.9 682.5h0M323.7 680.1h0M328.1 558.8h0M363.5 556.3h0M291.0 668.3h0M265.5 643.0h0M382.4 547.2h0M402.5 540.1h0M326.5 497.5h0M366.2 634.0h0M269.4 680.5h0M403.9 543.5h0M380.9 497.5h0M337.9 601.9h0M355.0 776.2h0M295.0 661.4h0M253.9 657.4h0M394.3 610.4h0M248.8 695.0h0M376.2 573.8h0M269.2 664.8h0M393.8 526.6h0M368.2 667.2h0M359.9 605.8h0M322.5 655.4h0M254.1 661.2h0M376.1 585.5h0M334.1 649.3h0M329.3 656.1h0M402.0 550.7h0M372.1 513.0h0M257.4 652.0h0M361.5 485.4h0M336.4 581.4h0M275.5 675.5h0M343.5 633.9h0M388.3 551.0h0M315.2 551.5h0M327.5 758.2h0M337.5 566.9h0M380.1 667.6h0M331.2 629.6h0M300.8 679.0h0M407.4 565.3h0M306.6 544.3h0M403.2 564.0h0M374.1 529.1h0M368.7 675.2h0M372.2 631.2h0M368.8 645.9h0M242.5 675.0h0M303.1 676.2h0M385.6 574.7h0M260.9 683.6h0M316.3 672.6h0M323.9 652.1h0M281.0 512.7h0M404.1 576.8h0M381.6 527.2h0M344.0 665.7h0M373.2 700.5h0M326.8 554.8h0M367.9 567.5h0M250.2 668.3h0M371.3 614.9h0M387.1 584.2h0M327.2 671.6h0M332.5 580.0h0M256.2 640.0h0M394.3 591.3h0M379.0 543.6h0M367.6 598.7h0M378.0 622.9h0"/>
<path stroke="#00BFC4" d="M786.0 760.7h0M793.5 753.7h0M763.9 726.2h0M693.1 827.9h0M704.2 831.8h0M694.2 820.5h0M619.7 846.3h0M800.4 843.2h0M773.4 775.5h0M666.4 848.5h0M752.6 838.3h0M633.0 827.8h0M760.4 839.0h0M752.7 810.5h0M691.6 822.2h0M763.9 842.5h0M809.0 830.4h0M637.3 850.7h0M632.0 843.9h0M706.3 827.3h0M754.0 802.9h0M633.4 838.3h0M669.4 740.5h0M743.4 786.4h0M643.9 846.0h0M790.4 768.8h0M697.7 809.8h0M608.2 831.4h0M768.5 838.6h0M741.7 782.7h0M783.7 694.9h0M720.9 800.5h0M665.0 846.1h0M777.0 723.7h0M777.9 707.8h0M687.7 835.1h0M784.5 752.7h0M778.6 765.9h0M741.1 829.3h0M750.4 793.7h0M781.7 847.3h0M787.4 766.9h0M720.9 829.2h0M705.4 819.4h0M756.0 799.0h0M686.2 784.8h0M790.5 766.1h0M735.9 806.0h0M781.3 766.9h0M779.0 849.4h0M627.7 842.3h0M781.4 841.9h0M721.5 795.9h0M630.2 839.7h0M780.4 709.5h0M776.7 711.8h0M778.2 719.0h0M815.7 849.2h0M783.2 748.9h0M741.0 775.0h0M723.7 808.1h0M786.0 751.0h0M728.3 792.2h0M696.0 829.5h0M775.5 777.0h0M786.3 769.6h0M635.3 839.3h0M741.4 804.4h0M795.1 755.0h0M734.2 793.2h0M775.4 845.9h0M631.1 847.1h0M736.6 802.1h0M777.0 771.5h0M732.9 823.6h0M749.2 827.2h0M841.3 862.0h0M750.3 795.7h0M763.0 840.6h0"/>
<path stroke="#00C094" d="M889.6 371.5h0M864.8 305.2h0M950.4 377.1h0M870.7 336.5h0M877.3 367.2h0M917.8 388.4h0M870.2 299.2h0M935.2 356.2h0M902.7 388.7h0M909.9 384.2h0M853.0 313.9h0M984.9 297.2h0M871.5 360.0h0M850.5 275.2h0M953.1 291.3h0M922.4 391.8h0M856.3 384.7h0M951.2 327.4h0M882.4 312.1h0M957.1 303.7h0M844.4 293.3h0M931.0 396.0h0M908.9 360.2h0M948.1 365.6h0M955.3 383.2h0M861.2 317.8h0M910.4 351.7h0M961.2 298.0h0M947.3 330.0h0M922.8 375.8h0M943.9 364.8h0M930.7 340.7h0M888.1 373.5h0M962.5 278.0h0M939.8 371.5h0M899.9 381.7h0M855.6 346.7h0M855.1 317.9h0M959.2 363.5h0M866.1 365.5h0M943.4 355.9h0M973.6 313.8h0M943.4 352.4h0M948.6 367.6h0M950.7 374.1h0M860.6 343.9h0M869.9 326.4h0M946.4 373.6h0M861.7 323.3h0M931.1 366.7h0M864.4 363.5h0M962.8 360.3h0M918.3 355.2h0M941.0 385.3h0M938.1 347.0h0M842.9 294.7h0M868.6 375.0h0M841.9 303.4h0M932.3 346.2h0M980.5 309.2h0M940.1 344.9h0M851.4 316.1h0M848.8 306.3h0M884.8 345.1h0M960.7 369.9h0M902.8 338.8h0M952.3 371.1h0M979.3 286.5h0M918.8 349.4h0M950.8 356.9h0M842.7 285.3h0M863.0 316.1h0M910.4 333.2h0M893.9 366.3h0M953.3 352.7h0M904.0 354.6h0M865.7 341.2h0M915.8 367.6h0M952.5 363.7h0M854.9 321.8h0M915.9 374.0h0M876.6 370.9h0M912.2 358.3h0M855.1 299.9h0M944.8 374.5h0M962.5 277.8h0M945.3 359.6h0M925.4 349.3h0M915.9 372.2h0M842.3 282.7h0"/>
<path stroke="#DF70F8" d="M576.0 618.5h0M858.7 869.5h0M589.6 584.7h0M589.6 586.7h0M619.7 539.0h0M850.5 870.2h0M584.8 592.7h0M833.0 864.8h0M580.6 604.1h0M847.9 873.5h0M586.7 586.7h0M850.1 873.4h0M591.2 598.0h0M584.6 599.5h0M839.8 872.0h0M613.0 552.2h0M703.7 836.1h0M574.0 605.5h0M577.6 612.4h0M580.2 599.3h0M581.4 620.4h0M581.1 623.3h0M616.8 544.4h0M577.5 615.2h0M847.5 875.8h0"/>
<path stroke="#FF66A8" d="M661.7 746.7h0M661.6 745.4h0M679.9 772.2h0"/>
<path stroke="#FB61D7" d="M688.0 598.8h0M669.1 622.9h0M660.1 617.2h0M693.8 594.9h0M671.0 616.1h0M690.4 597.9h0M697.3 587.8h0M660.2 620.4h0M684.7 600.6h0"/>
<path stroke="#A58AFF" d="M285.5 760.6h0M274.2 795.5h0M284.8 762.6h0M298.3 735.3h0M281.0 830.9h0M285.5 838.2h0M221.2 753.2h0M287.4 830.9h0M265.5 762.5h0M282.6 838.5h0M248.5 787.3h0M269.4 823.7h0M288.9 755.5h0M283.3 745.0h0M254.7 787.7h0M275.6 833.3h0M259.0 767.3h0M248.0 790.5h0M261.4 803.8h0M274.2 762.6h0M287.2 754.8h0M286.5 757.8h0M289.2 838.7h0M298.3 756.9h0M299.2 733.8h0M250.9 781.0h0M218.3 756.5h0M255.7 763.9h0M215.5 734.5h0M274.7 823.1h0M281.3 845.7h0M297.5 840.0h0M296.0 756.4h0M262.5 764.7h0M238.7 763.6h0M295.3 738.2h0M221.2 711.8h0"/>
<path stroke="#53B400" d="M181.8 687.2h0M181.2 670.5h0M273.0 549.2h0M164.3 691.5h0M207.5 707.5h0M200.9 617.0h0M173.8 694.7h0M202.4 624.2h0M267.5 575.0h0M189.6 710.3h0M195.8 621.5h0M236.9 557.1h0M178.4 619.6h0M171.4 682.8h0M171.3 625.8h0M184.1 682.9h0M271.2 594.5h0M190.1 685.3h0M255.0 527.5h0M228.0 659.6h0M208.9 678.4h0M204.9 671.6h0M312.5 490.9h0M215.1 613.2h0M193.6 615.0h0M172.4 622.5h0M148.0 633.0h0M182.8 726.9h0M169.2 649.3h0M164.3 688.1h0M280.0 597.5h0M238.6 620.1h0M183.3 616.8h0M164.6 679.9h0M306.1 482.5h0M316.8 475.6h0M158.4 688.8h0M176.0 692.5h0M159.8 703.7h0M209.1 681.9h0M154.8 646.4h0M216.7 602.9h0M174.0 651.7h0M155.5 634.2h0M280.5 631.2h0M203.0 693.0h0M328.0 460.6h0M229.7 455.5h0M246.8 547.4h0M238.5 625.5h0M184.5 649.9h0M186.6 615.0h0M254.8 557.7h0M166.5 655.0h0M210.6 625.9h0M164.0 672.3h0M171.4 629.7h0M155.9 629.4h0M205.8 664.8h0M301.2 600.0h0M212.0 613.7h0M236.1 594.8h0M244.0 586.9h0M325.8 603.0h0M200.7 683.7h0M161.1 651.6h0M162.5 702.5h0M162.2 691.9h0M246.4 634.8h0M250.2 553.3h0M204.4 633.9h0M190.2 673.7h0M164.0 630.9h0M184.9 665.5h0M161.6 649.0h0M152.8 647.9h0M180.1 745.3h0M283.8 518.8h0M204.5 675.6h0M200.4 642.9h0M151.8 674.9h0M140.9 640.8h0M260.0 555.0h0M165.9 667.9h0M210.8 606.3h0M172.5 594.2h0M250.8 593.9h0M160.7 698.9h0M319.7 474.7h0M202.9 619.8h0M201.2 721.2h0M270.0 557.5h0M201.8 612.8h0M203.4 612.6h0M183.3 637.4h0M168.4 639.7h0M159.2 637.1h0M192.6 608.9h0M192.2 707.2h0M220.0 693.8h0M232.8 646.9h0M205.0 600.7h0M150.7 669.8h0M208.2 637.8h0M196.2 732.5h0M245.8 554.7h0M185.1 686.7h0M281.2 512.5h0M224.4 604.0h0M162.3 704.2h0M153.0 672.6h0M206.3 667.1h0M179.4 665.4h0M175.6 688.2h0M192.3 640.7h0M171.7 712.9h0M205.5 619.7h0M243.1 624.6h0M210.1 664.5h0M142.4 655.6h0M167.5 685.0h0M229.4 597.9h0M304.8 502.9h0M189.0 689.2h0M220.6 642.9h0M175.8 709.1h0M179.7 645.5h0M183.1 741.6h0M161.3 624.7h0M192.3 710.0h0M191.9 635.2h0"/>
<path stroke="#00B6EB" d="M926.2 648.3h0M866.1 457.7h0M898.3 582.5h0M917.3 640.6h0M847.0 502.6h0M947.2 664.7h0M872.4 516.5h0M847.3 523.0h0M915.8 751.0h0M900.0 673.3h0M874.8 400.5h0M869.8 501.4h0M855.5 488.6h0M903.3 474.4h0M938.6 658.3h0M874.2 486.0h0M894.0 454.8h0M886.7 678.0h0M893.0 581.9h0M877.3 470.9h0M899.7 568.4h0M850.2 454.0h0M877.5 645.6h0M855.2 453.6h0M862.5 513.1h0M885.9 603.3h0M897.1 469.8h0M861.0 458.9h0M852.1 512.1h0M882.6 499.8h0M877.9 453.4h0M859.8 504.8h0M901.3 480.9h0M900.2 468.4h0M898.5 575.2h0M890.4 644.4h0M892.6 647.9h0M891.5 609.6h0M885.6 464.3h0M866.6 495.2h0M890.2 680.5h0M877.1 505.1h0M866.7 508.7h0M850.7 510.3h0M896.7 627.3h0M862.9 501.9h0M880.1 550.1h0M890.8 618.8h0M937.1 620.9h0M861.5 494.2h0M887.9 585.5h0M890.2 680.3h0M886.3 554.0h0M880.4 646.9h0M893.3 466.2h0M893.2 651.3h0M844.3 500.7h0M899.2 572.4h0M880.8 596.8h0M917.1 644.2h0M887.8 641.1h0M892.8 569.1h0M869.9 515.9h0M879.4 476.9h0M894.2 603.4h0M850.2 506.2h0M871.2 491.3h0M885.7 580.2h0M901.5 465.3h0M897.2 708.5h0M896.7 634.1h0M908.3 599.1h0M865.1 497.7h0M856.1 500.5h0M856.7 492.2h0M866.5 501.2h0M912.2 624.4h0M857.8 458.8h0M905.9 628.7h0M891.8 393.3h0M908.2 638.6h0M875.6 553.4h0"/>
<path stroke="#E38900" d="M896.9 146.0h0M834.9 79.4h0M919.2 110.6h0M856.4 268.7h0M874.1 99.4h0M856.2 129.7h0M889.9 102.0h0M835.9 91.5h0M921.2 245.6h0M871.7 217.8h0M846.1 123.1h0M878.9 178.0h0M861.5 146.3h0M811.0 182.7h0M907.6 261.2h0M800.3 194.5h0M872.1 97.9h0M832.6 245.6h0M813.1 181.5h0M883.1 130.9h0M846.5 255.2h0M865.3 166.7h0M843.2 188.6h0M879.3 199.6h0M815.8 218.1h0M889.9 108.7h0M873.4 113.7h0M861.0 189.7h0M824.5 192.8h0M880.1 181.0h0M869.8 96.4h0M825.3 149.5h0M843.7 81.5h0M832.2 93.4h0M856.8 95.3h0M860.2 75.7h0M861.0 352.0h0M884.4 84.0h0M827.4 97.8h0M885.6 110.1h0M803.3 192.8h0M855.8 195.4h0M907.9 84.3h0M917.6 239.3h0M862.5 157.3h0M875.5 84.7h0M915.0 259.4h0M883.4 69.1h0M892.5 271.9h0M842.3 289.0h0M863.0 81.4h0M904.8 69.9h0M873.4 119.2h0M827.9 228.1h0M866.3 282.1h0M885.2 70.7h0M899.4 108.5h0M870.7 189.4h0M855.0 112.5h0M856.0 98.1h0M833.7 116.2h0M813.5 131.0h0M815.9 191.8h0M857.8 171.2h0M894.6 249.7h0M905.2 226.1h0M833.7 128.7h0M851.6 274.9h0M915.8 280.3h0M897.2 110.1h0M879.7 113.6h0M895.4 132.2h0M834.2 114.6h0M855.6 65.9h0M847.9 80.2h0M872.9 104.2h0M910.1 112.0h0M858.1 138.6h0M874.2 80.5h0M904.0 136.5h0M866.9 143.5h0M894.7 58.0h0M856.3 163.2h0M840.1 74.2h0M807.4 175.9h0M864.4 221.8h0M832.9 112.2h0M911.2 234.7h0M892.1 194.2h0M886.8 75.8h0M858.2 145.4h0M895.6 244.1h0M869.9 236.2h0M859.6 103.9h0M825.7 210.4h0M886.1 262.1h0M867.7 122.0h0M890.2 148.8h0M907.3 265.1h0M858.5 65.3h0M836.1 107.8h0M907.8 213.7h0M890.9 146.8h0M901.8 110.2h0M873.3 231.0h0M857.0 108.7h0M914.5 301.1h0M843.3 153.0h0M844.7 292.5h0M893.0 247.3h0M902.9 228.4h0M888.4 148.3h0M886.7 120.2h0M897.4 107.6h0M897.4 100.5h0M858.4 249.1h0M842.2 200.6h0M902.1 217.1h0M814.7 126.0h0M845.9 91.2h0M850.7 205.7h0M886.6 103.1h0M854.1 137.7h0M799.6 171.2h0M904.2 339.2h0M912.6 259.0h0M916.8 241.0h0M884.8 105.1h0M852.1 120.6h0M842.5 143.8h0M840.5 90.4h0M818.7 149.0h0M857.6 135.6h0M868.9 173.7h0M864.1 152.3h0M900.3 309.9h0M891.1 66.0h0M819.5 152.1h0M858.6 264.5h0M900.7 123.5h0M870.6 108.5h0M834.1 160.5h0M844.4 160.9h0M876.0 94.6h0M892.3 265.7h0M868.2 209.6h0M830.6 105.2h0M893.9 240.5h0M836.2 204.4h0M886.4 100.6h0M903.5 233.6h0M827.8 122.7h0M830.7 233.5h0M276.2 580.5h0M911.2 253.2h0M838.9 244.8h0M884.3 119.7h0M880.6 101.6h0M868.7 108.3h0M848.7 115.3h0M839.5 112.4h0M885.6 62.1h0M865.7 79.1h0M862.2 57.5h0M896.7 445.1h0M883.0 90.3h0M820.6 150.8h0M931.8 313.9h0M907.6 202.3h0M889.7 237.2h0M811.6 176.2h0M878.2 91.5h0M876.7 150.4h0M821.5 98.4h0M854.1 140.9h0M838.2 122.6h0M914.8 250.0h0M916.6 100.7h0M911.4 239.3h0M841.0 197.4h0M907.9 288.6h0M849.0 219.6h0M851.1 201.6h0M852.1 81.5h0M879.6 160.1h0M860.8 183.8h0M800.7 186.6h0M841.4 99.2h0M887.8 101.8h0M873.9 228.2h0M808.3 136.3h0M887.5 223.3h0M845.2 103.8h0M882.1 238.8h0M831.8 126.9h0M884.0 236.2h0M864.1 149.8h0M900.8 64.8h0M814.6 171.8h0M832.4 189.5h0M867.3 56.4h0M863.8 173.6h0M814.5 121.0h0M908.7 91.7h0M849.0 94.0h0M900.5 223.0h0M840.9 189.3h0M858.6 116.4h0M860.3 108.0h0M940.3 103.0h0M868.6 207.1h0M866.9 116.1h0M866.0 162.4h0M919.1 251.3h0M814.8 139.7h0"/>
<path stroke="#F8766D" d="M293.8 434.1h0M332.1 302.4h0M260.3 471.3h0M332.6 471.3h0M250.2 393.6h0M347.6 415.7h0M277.9 426.6h0M158.3 425.3h0M353.2 408.2h0M235.0 326.5h0M152.1 407.3h0M325.2 487.8h0M257.8 322.4h0M171.6 373.3h0M351.4 357.7h0M358.8 787.5h0M193.0 448.4h0M351.4 391.6h0M232.1 362.3h0M354.5 332.0h0M150.7 391.1h0M273.1 465.0h0M277.0 318.8h0M152.0 412.4h0M338.8 293.6h0M332.7 460.5h0M285.9 503.9h0M290.7 456.9h0M322.2 323.6h0M339.5 354.2h0M210.1 476.5h0M183.7 372.6h0M355.3 320.3h0M149.3 410.0h0M331.6 450.0h0M304.5 337.5h0M301.0 330.9h0M347.5 483.5h0M188.2 463.1h0M342.3 396.5h0M305.3 347.9h0M164.8 380.2h0M286.0 300.6h0M335.3 313.9h0M284.2 502.9h0M278.6 312.7h0M276.0 460.9h0M344.1 418.1h0M182.9 383.4h0M253.8 367.8h0M348.8 482.5h0M291.3 313.6h0M273.4 354.4h0M206.7 455.2h0M221.6 385.2h0M372.0 528.0h0M196.5 347.0h0M290.4 424.2h0M232.1 461.4h0M268.9 336.5h0M209.4 408.1h0M179.6 402.0h0M317.8 311.8h0M241.4 329.5h0M276.3 312.1h0M337.7 358.2h0M325.9 387.7h0M352.2 400.6h0M328.9 405.6h0M301.7 299.7h0M157.7 419.7h0M317.3 456.8h0M338.7 454.4h0M255.2 409.6h0M204.1 453.0h0M190.5 418.3h0M275.3 467.7h0M276.3 299.1h0M234.0 477.5h0M244.1 358.6h0M184.5 455.8h0M329.5 370.9h0M163.4 387.4h0M275.3 422.8h0M310.2 386.4h0M250.6 408.2h0M307.2 398.0h0M219.9 319.5h0M169.5 398.6h0M327.9 310.2h0M205.3 336.4h0M351.0 312.3h0M190.7 420.0h0M193.7 425.7h0M178.5 373.3h0M195.1 379.1h0M359.9 409.2h0M195.9 363.5h0M299.3 385.1h0M311.3 299.2h0M212.6 335.4h0M337.0 496.3h0M185.3 392.2h0M157.2 382.5h0M360.5 350.1h0M225.1 337.7h0M250.4 327.0h0M179.9 440.6h0M348.3 346.9h0M311.8 502.7h0M191.1 431.0h0M275.5 386.3h0M259.8 391.0h0M299.2 491.7h0M239.2 388.7h0M203.8 417.1h0M312.1 391.9h0M198.8 369.5h0M337.6 317.8h0M272.3 398.3h0M276.3 336.2h0M294.8 441.0h0M194.9 456.6h0M360.5 548.8h0M231.2 390.4h0M186.1 426.8h0M320.5 384.3h0M307.7 414.1h0M159.1 422.7h0M684.3 838.5h0M291.0 392.3h0M190.4 448.9h0M265.6 432.5h0M174.7 424.6h0M277.4 424.7h0M250.1 441.5h0M201.2 370.5h0M147.5 390.6h0M275.3 476.4h0M335.0 852.0h0M159.8 410.4h0M354.5 462.5h0M346.2 360.1h0M241.3 362.5h0M181.7 416.0h0M261.6 335.5h0M262.5 404.0h0M321.3 382.9h0M237.9 368.6h0M237.7 377.9h0M249.7 385.4h0M283.8 396.7h0M281.6 313.9h0M268.6 495.3h0M181.1 443.6h0M291.8 327.7h0M298.0 362.1h0M347.6 313.3h0M315.4 493.7h0M345.3 364.1h0M344.1 423.3h0M286.2 315.6h0M247.1 404.5h0M163.4 410.1h0M172.8 415.2h0M206.2 472.4h0M183.5 452.3h0M297.1 322.7h0M354.7 386.6h0M187.3 347.0h0M161.0 414.7h0M315.4 509.0h0M209.6 321.8h0M195.2 376.4h0M237.9 443.5h0M312.1 386.1h0M277.1 489.9h0M288.8 354.2h0M303.1 447.0h0M295.2 335.6h0M234.7 423.4h0M272.6 380.6h0M239.1 330.5h0M154.7 413.6h0M201.1 324.4h0M344.8 396.5h0M202.8 327.2h0M183.2 442.2h0M295.6 471.4h0M345.0 446.7h0M297.7 430.8h0M174.1 379.6h0M202.5 344.7h0M300.5 291.0h0M233.1 426.7h0M348.7 409.9h0M164.4 403.3h0M212.2 340.5h0M275.4 360.6h0M263.9 444.5h0M350.3 421.7h0M209.2 442.9h0M294.8 375.1h0M342.1 413.5h0M198.1 449.0h0M277.5 315.9h0M191.0 360.6h0M172.5 381.5h0M251.9 453.6h0M333.2 354.2h0M211.0 468.1h0M292.0 375.5h0M319.7 378.9h0M347.6 316.5h0M287.8 294.1h0M247.6 483.4h0M329.4 382.9h0M273.9 419.1h0M275.8 427.6h0M161.4 422.0h0M332.2 415.2h0M286.9 305.9h0M282.7 435.8h0M341.1 335.1h0M325.6 391.4h0M228.6 444.3h0M210.6 387.5h0M214.7 349.0h0M319.8 449.1h0M239.4 321.4h0M165.0 391.6h0M295.8 449.0h0M359.5 375.8h0M330.9 469.4h0M312.1 508.1h0M277.8 451.3h0M296.5 308.5h0M309.5 413.5h0M291.4 443.6h0M232.4 405.0h0M276.8 351.9h0M208.6 460.2h0M345.3 403.3h0M333.2 294.7h0M243.6 431.1h0M183.4 438.5h0M256.2 492.5h0M343.5 316.5h0M328.6 440.6h0M340.0 441.4h0M195.5 410.9h0M183.0 444.9h0M193.8 372.3h0M294.3 488.3h0M243.8 422.4h0M254.9 395.6h0M324.2 401.7h0M163.6 428.0h0M260.6 492.0h0M287.3 479.5h0M324.8 410.2h0M331.5 393.8h0M173.8 393.3h0M292.9 438.1h0M277.6 338.8h0M158.2 380.0h0M155.5 398.5h0M273.7 440.7h0M202.3 475.1h0M327.1 364.8h0M320.8 470.5h0M322.9 391.1h0M147.6 409.8h0M161.5 374.5h0M203.7 364.3h0M342.4 390.5h0M244.2 335.2h0M319.9 497.3h0M288.4 419.7h0M295.6 350.9h0M289.9 375.1h0M301.9 311.9h0M273.1 394.9h0M317.4 478.3h0M252.2 406.8h0M310.7 306.5h0M284.7 427.1h0M345.8 428.0h0M309.9 362.0h0M325.6 381.8h0M300.8 454.8h0M297.5 528.8h0M253.6 360.8h0M196.1 452.4h0M189.5 409.8h0M201.3 400.2h0M349.8 481.2h0M312.3 431.5h0M217.5 337.1h0M244.1 479.5h0M314.6 331.6h0M212.4 333.3h0M214.9 354.1h0M218.3 420.8h0M241.3 320.5h0M340.5 830.8h0M229.5 372.2h0M271.7 454.6h0M198.5 335.0h0M323.9 392.8h0M288.8 484.8h0M257.1 451.6h0M352.3 330.6h0M318.9 359.8h0M346.0 344.0h0M280.3 422.9h0M249.2 395.0h0M224.8 353.3h0M319.0 317.7h0M170.1 394.1h0M262.3 354.5h0M230.1 429.4h0M301.8 473.6h0M293.3 447.9h0M325.3 509.9h0M159.2 403.0h0M340.5 879.2h0M258.4 468.0h0"/>
<path stroke="#53B400" d="M265.0 526.2h0M182.6 658.0h0M189.0 616.1h0M244.4 547.8h0M280.0 541.2h0M187.5 630.8h0M210.2 602.5h0M160.0 619.1h0M207.9 621.7h0M227.9 662.5h0M202.6 605.5h0M194.4 668.4h0M176.2 647.6h0M181.4 646.8h0M157.3 620.6h0M215.0 465.5h0M196.0 679.8h0M196.9 672.7h0M312.4 483.4h0M169.0 637.5h0M304.1 499.6h0M162.2 609.7h0M154.8 667.7h0M200.7 680.2h0M201.1 652.8h0M205.6 636.5h0M236.6 623.2h0M183.9 653.5h0M186.7 619.3h0M198.1 654.0h0M171.6 650.2h0M197.8 690.0h0M234.0 560.8h0M166.8 608.1h0M182.6 677.4h0M252.7 544.6h0M236.6 643.8h0M295.7 499.3h0M206.4 674.4h0M252.9 593.8h0M344.2 615.5h0M236.3 579.5h0M250.7 559.4h0M179.5 689.5h0M342.1 388.5h0M309.1 492.4h0M189.5 612.6h0M322.9 458.0h0M324.3 471.7h0M151.3 633.1h0M165.7 634.1h0M236.0 442.0h0M194.4 682.3h0M187.1 686.5h0M186.9 688.3h0M199.3 692.3h0M142.3 662.1h0M162.3 656.9h0M155.3 618.1h0M231.2 718.8h0M193.3 633.4h0M180.4 626.3h0M160.5 645.0h0M226.7 600.2h0M188.7 695.0h0M159.3 691.8h0M203.4 690.2h0M170.0 674.9h0M185.6 698.9h0M233.6 635.1h0M277.5 590.0h0M219.7 617.5h0M181.5 639.6h0M215.4 664.6h0M209.9 635.9h0M187.8 622.2h0M177.0 664.0h0M181.3 737.4h0M199.0 681.3h0M143.5 632.5h0M205.2 656.5h0M212.8 657.6h0M235.6 561.5h0M180.3 697.2h0M200.0 716.2h0M167.4 671.5h0M167.1 631.6h0M169.5 631.6h0M154.3 629.7h0M322.7 469.6h0M331.2 457.8h0M173.8 739.1h0M170.3 666.6h0M243.8 545.0h0M191.1 662.6h0M172.2 696.2h0M246.3 558.4h0M157.1 646.0h0M244.2 583.4h0M255.9 583.7h0M294.9 503.1h0M211.8 668.3h0M232.6 671.7h0M189.3 698.1h0M170.0 662.9h0M239.6 597.7h0M175.6 617.9h0M216.7 662.6h0M183.8 738.3h0M148.6 642.2h0M321.8 462.5h0M203.9 637.3h0M184.8 646.4h0M172.2 654.4h0M225.6 652.6h0M187.2 704.4h0M239.8 563.1h0M165.7 681.9h0M166.4 675.7h0M207.6 656.7h0M306.6 490.6h0M258.8 544.6h0M207.5 618.3h0M296.2 505.5h0M251.3 557.5h0M176.2 672.6h0M174.2 667.0h0"/>
<path stroke="#00BFC4" d="M761.5 846.8h0M758.3 837.5h0M771.2 718.3h0M753.3 790.7h0M618.3 827.9h0M737.5 797.3h0M717.0 824.5h0M779.8 757.9h0M633.0 845.8h0M724.0 803.9h0M726.2 789.1h0M689.8 831.7h0M745.5 809.1h0M724.9 815.2h0M723.9 818.1h0M772.3 779.6h0M742.2 812.4h0M778.2 712.9h0M696.8 819.0h0M635.4 856.7h0M754.5 832.4h0M740.0 790.4h0M627.6 845.2h0M622.6 846.7h0M810.3 852.0h0M744.5 769.6h0M742.1 807.2h0M744.7 797.1h0M696.4 798.2h0M771.2 783.2h0M630.1 828.2h0M737.6 787.2h0M714.2 803.1h0M721.2 827.2h0M822.2 845.1h0M732.9 829.0h0M637.2 842.0h0M639.0 841.0h0M631.0 834.2h0M724.2 821.0h0M747.1 814.5h0M794.1 761.6h0M675.6 842.0h0M767.6 843.2h0M818.0 856.7h0M631.7 841.5h0M784.8 701.8h0M686.8 838.5h0M757.6 842.9h0M750.2 742.4h0M614.3 829.2h0M770.3 779.3h0M779.5 718.5h0M633.7 843.8h0M687.2 826.8h0M735.5 817.2h0M779.1 845.5h0M777.4 719.7h0M751.4 826.7h0M784.6 749.9h0M758.4 834.8h0M788.3 759.7h0M624.9 844.9h0M785.0 699.3h0M640.8 842.4h0M781.5 699.5h0M763.1 848.1h0M791.2 756.3h0M726.9 830.6h0M742.3 794.5h0M640.3 830.7h0M722.1 792.4h0M662.9 846.7h0M780.6 755.6h0M703.0 810.4h0M706.3 794.9h0M699.3 815.2h0M791.9 759.3h0M660.3 840.9h0M704.4 838.8h0M796.9 842.7h0M747.5 771.7h0"/>
<path stroke="#F8766D" d="M190.1 442.7h0M343.4 348.0h0M182.8 431.0h0M264.7 413.5h0M205.3 373.1h0M344.0 412.0h0M235.4 360.9h0M315.0 519.5h0M228.8 336.5h0M198.8 352.3h0M263.0 480.3h0M324.3 339.1h0M147.5 396.7h0M310.1 492.0h0M290.0 505.0h0M241.0 493.4h0M319.7 362.1h0M294.9 478.9h0M227.0 445.8h0M315.0 314.8h0M340.2 351.7h0M242.3 357.4h0M270.4 380.4h0M193.4 464.1h0M252.6 393.5h0M330.3 386.1h0M293.5 424.1h0M198.2 440.1h0M294.9 489.9h0M287.9 402.2h0M153.9 401.9h0M181.5 373.0h0M354.6 402.4h0M217.3 369.9h0M259.4 317.2h0M207.0 393.7h0M231.4 446.0h0M213.4 441.9h0M298.0 326.1h0M208.9 422.9h0M330.0 290.4h0M328.7 461.4h0M224.7 436.3h0M274.6 485.0h0M261.5 433.0h0M335.6 451.5h0M287.1 477.1h0M306.2 318.8h0M351.5 420.0h0M170.4 401.3h0M282.4 319.3h0M272.9 299.1h0M267.2 328.5h0M308.9 341.0h0M254.9 451.2h0M180.3 358.8h0M241.9 437.0h0M338.3 451.6h0M261.9 351.7h0M326.7 376.0h0M341.8 542.5h0M232.7 423.7h0M234.2 459.3h0M238.9 383.7h0M321.8 310.3h0M229.3 370.0h0M192.1 410.6h0M350.2 309.4h0M295.3 506.4h0M317.4 471.3h0M208.4 370.4h0M310.7 380.4h0M273.1 314.2h0M264.5 323.1h0M257.5 356.3h0M240.6 424.1h0M238.7 434.1h0M181.9 400.2h0M316.1 303.2h0M291.9 336.4h0M154.2 384.2h0M296.0 315.3h0M302.3 402.5h0M269.3 498.5h0M301.0 432.0h0M198.9 456.8h0M195.9 351.2h0M296.3 488.4h0M356.8 373.5h0M273.0 375.8h0M190.2 395.2h0M223.4 471.8h0M300.7 445.2h0M337.6 388.6h0M341.5 417.7h0M353.1 308.9h0M267.6 493.6h0M196.3 382.1h0M256.5 394.7h0M228.4 407.5h0M201.8 367.5h0M296.1 363.1h0M286.2 449.7h0M156.9 401.1h0M241.7 405.8h0M285.5 293.1h0M182.2 433.5h0M317.8 288.4h0M207.0 411.9h0M187.9 400.4h0M225.7 453.5h0M318.2 344.3h0M226.1 347.9h0M204.5 466.2h0M180.9 403.1h0M214.5 408.3h0M287.6 376.9h0M337.4 416.5h0M162.3 408.6h0M179.4 397.3h0M303.8 339.9h0M341.5 453.3h0M276.0 414.8h0M321.9 332.3h0M342.3 353.4h0M337.6 371.2h0M309.2 309.2h0M276.2 731.8h0M173.2 431.6h0M226.5 458.2h0M173.6 373.6h0M314.9 435.8h0M305.9 413.2h0M254.7 412.1h0M272.3 362.0h0M297.5 310.9h0M333.3 372.5h0M299.6 391.9h0M237.4 425.0h0M247.8 479.3h0M330.3 318.7h0M349.0 416.6h0M264.0 343.8h0M188.1 454.4h0M303.6 319.0h0M357.5 315.4h0M194.5 341.1h0M337.0 497.0h0M309.5 435.5h0M355.3 365.4h0M285.4 436.0h0M192.3 422.9h0M262.1 458.7h0M366.9 403.0h0M180.6 362.2h0M348.1 363.6h0M312.3 333.6h0M335.0 369.9h0M354.8 437.5h0M355.0 381.1h0M254.0 317.8h0M317.2 282.1h0M286.9 468.8h0M343.3 310.6h0M330.2 425.6h0M290.5 293.2h0M324.8 331.3h0M281.3 474.7h0M261.3 421.8h0M319.2 387.7h0M212.3 430.9h0M355.6 400.4h0M294.7 299.4h0M195.2 429.3h0M196.7 370.0h0M153.9 405.5h0M201.8 462.7h0M206.7 381.1h0M291.2 454.0h0M264.9 379.3h0M355.2 317.5h0M215.4 443.2h0M181.6 405.1h0M267.5 366.5h0M187.7 393.5h0M190.0 370.9h0M285.7 377.2h0M204.8 360.2h0M273.9 372.2h0M282.6 302.5h0M267.7 394.7h0M233.7 341.5h0M196.0 360.8h0M243.9 344.4h0M335.8 422.9h0M294.4 405.3h0M299.9 361.8h0M312.9 348.0h0M329.5 873.0h0M291.5 360.5h0M322.6 422.6h0M342.6 440.5h0M257.6 454.4h0M271.8 477.3h0M360.6 387.7h0M309.6 399.9h0M273.4 445.7h0M243.6 408.9h0M352.3 346.0h0M180.7 391.2h0M179.9 418.9h0M260.0 330.6h0M176.8 398.8h0M267.5 519.2h0M325.9 401.2h0M336.5 366.5h0M346.5 391.7h0M199.0 389.1h0M252.4 329.5h0M224.8 335.3h0M224.6 322.0h0M270.5 478.9h0M208.9 415.1h0M332.6 382.6h0M315.7 351.2h0M172.2 370.6h0M214.2 456.3h0M207.2 349.7h0M352.9 359.3h0M330.0 296.3h0M311.4 294.4h0M203.0 347.2h0M340.5 332.1h0M260.3 340.0h0M291.1 396.9h0M252.0 414.1h0M246.0 487.6h0M319.3 348.2h0M328.8 339.9h0M167.8 392.7h0M176.6 406.5h0M359.8 326.3h0M213.7 371.0h0M336.9 346.7h0M324.6 299.1h0M186.5 461.2h0M236.1 414.3h0M222.6 351.5h0M357.6 354.4h0M234.1 365.5h0M264.0 447.3h0M284.3 460.9h0M224.3 344.2h0M182.2 386.8h0M342.1 367.2h0M237.6 353.9h0M211.8 448.7h0M228.5 405.6h0M304.4 466.4h0M344.7 398.9h0M207.9 437.8h0M197.3 391.9h0M295.3 377.0h0M153.0 393.0h0M154.1 408.1h0M194.2 413.6h0M244.2 467.1h0M183.5 404.9h0M269.7 327.5h0M218.8 406.4h0M258.2 491.4h0M342.5 381.8h0M288.9 350.8h0M301.5 339.4h0M308.9 408.6h0M351.3 352.7h0M178.3 438.5h0M282.9 488.1h0M334.6 335.3h0M267.2 374.4h0M293.4 294.6h0M279.4 298.8h0M159.9 406.9h0M270.5 496.0h0M307.6 345.8h0M264.4 460.0h0M293.6 497.6h0M299.6 287.9h0M192.2 391.0h0M259.7 351.8h0M284.7 343.2h0M272.9 413.7h0M330.9 480.6h0M286.1 346.8h0M208.9 425.0h0M308.7 288.8h0M142.5 402.6h0M342.9 370.1h0M227.1 360.1h0M289.0 389.1h0M216.4 461.7h0M309.2 353.5h0M300.0 855.0h0M356.9 348.0h0M279.0 392.7h0M272.4 474.6h0M187.6 374.4h0M302.6 487.6h0M193.3 450.6h0M258.7 367.9h0M302.9 357.2h0M263.3 337.2h0M164.1 425.3h0M169.9 425.1h0M276.7 417.8h0M261.4 482.1h0M274.2 442.4h0M302.1 383.6h0M340.4 328.7h0M190.4 352.0h0M230.5 472.4h0M363.4 349.2h0M172.2 409.9h0M197.9 438.5h0M350.5 416.0h0"/>
<path stroke="#E38900" d="M852.1 143.6h0M884.3 238.3h0M821.5 207.3h0M843.7 94.7h0M861.3 255.3h0M865.5 250.1h0M876.1 126.1h0M904.9 206.8h0M809.9 179.6h0M856.1 217.3h0M915.6 251.7h0M881.7 106.3h0M903.2 106.2h0M850.3 97.0h0M836.0 77.0h0M933.3 310.0h0M915.8 90.4h0M821.9 120.7h0M861.5 150.4h0M819.0 200.4h0M881.0 230.5h0M882.9 57.5h0M853.9 63.8h0M897.8 96.0h0M874.1 83.1h0M900.7 170.7h0M896.4 89.9h0M864.0 83.8h0M821.2 195.7h0M868.7 113.3h0M871.3 213.2h0M882.0 73.0h0M852.4 132.7h0M865.3 65.9h0M851.0 123.1h0M821.1 159.6h0M914.7 116.2h0M941.5 376.5h0M912.3 87.7h0M901.1 101.5h0M917.7 232.1h0M881.9 233.9h0M875.3 59.6h0M822.8 138.3h0M863.0 164.2h0M841.1 79.8h0M900.0 90.3h0M824.8 99.0h0M889.4 74.7h0M877.4 76.6h0M880.3 135.6h0M836.4 188.9h0M836.8 149.6h0M911.2 94.0h0M833.7 191.3h0M859.7 72.4h0M853.5 194.1h0M862.2 112.3h0M809.1 171.7h0M909.5 205.0h0M872.4 86.7h0M836.1 216.1h0M829.7 216.3h0M822.7 131.0h0M860.6 83.7h0M909.3 114.1h0M847.4 194.5h0M833.3 238.8h0M914.5 294.5h0M909.2 323.3h0M860.5 93.6h0M907.3 100.4h0M878.5 131.8h0M856.6 131.5h0M857.1 102.5h0M823.1 140.3h0M830.9 177.8h0M810.9 134.0h0M912.3 278.9h0M917.5 300.6h0M903.0 122.3h0M919.9 325.1h0M883.8 286.8h0M854.0 238.9h0M854.7 123.0h0M883.3 128.0h0M833.2 230.1h0M907.6 228.5h0M855.0 256.9h0M872.4 215.7h0M885.4 72.9h0M860.8 259.1h0M809.2 191.7h0M837.2 213.9h0M868.8 157.3h0M841.1 158.7h0M870.1 86.2h0M830.1 164.0h0M804.5 184.6h0M838.2 98.5h0M828.9 106.3h0M818.3 202.6h0M844.7 448.4h0M851.9 180.1h0M904.3 235.5h0M850.9 187.2h0M827.7 236.2h0M874.0 258.5h0M828.3 91.2h0M878.2 66.6h0M863.5 62.1h0M847.6 150.0h0M825.7 183.8h0M854.6 114.6h0M849.9 225.1h0M933.3 260.3h0M915.9 314.1h0M898.9 206.6h0M918.0 316.9h0M869.6 91.5h0M872.6 179.9h0M824.8 103.9h0M872.2 282.5h0M823.7 242.7h0M806.1 179.4h0M891.8 121.6h0M871.0 173.3h0M875.0 115.0h0M895.3 124.6h0M869.1 169.5h0M837.5 183.1h0M866.0 171.1h0M889.9 91.5h0M875.7 184.5h0M842.5 84.1h0M844.1 251.4h0M834.3 145.8h0M862.2 346.2h0M929.5 304.2h0M863.1 208.1h0M861.2 177.8h0M829.7 138.6h0M904.3 262.1h0M890.9 233.9h0M814.2 216.5h0M870.8 277.9h0M916.9 117.1h0M860.0 139.8h0M871.2 121.6h0M840.1 142.4h0M862.4 272.8h0M826.9 195.0h0M853.2 93.5h0M842.7 114.9h0M833.4 156.2h0M846.0 74.7h0M823.5 105.4h0M877.3 68.4h0M903.6 250.6h0M911.3 231.0h0M877.7 159.0h0M828.8 189.5h0M887.2 83.2h0M898.9 242.8h0M824.8 153.1h0M833.6 267.5h0M847.8 156.4h0M900.0 113.1h0M893.9 140.4h0M905.7 97.1h0M858.7 183.8h0M907.0 221.5h0M832.2 107.1h0M901.6 272.1h0M893.7 120.8h0M912.1 232.9h0M857.5 255.0h0M892.4 221.2h0M902.1 282.3h0M840.2 250.8h0M888.8 279.3h0M901.1 241.4h0M884.9 57.7h0M878.8 253.2h0M916.2 106.9h0M813.3 146.3h0M912.4 121.8h0M845.3 112.0h0M901.7 118.8h0M851.6 285.0h0M823.3 234.5h0M891.0 58.6h0M843.5 240.1h0M870.0 117.7h0M856.5 157.7h0M878.6 71.9h0M879.7 238.3h0M852.0 74.8h0M878.7 119.5h0M841.7 108.6h0M833.0 134.1h0M854.2 106.8h0M838.5 178.8h0M828.9 111.5h0M826.6 189.5h0M910.7 103.3h0M842.1 253.0h0M897.6 84.1h0M839.1 233.1h0M847.5 171.2h0M873.3 134.5h0M849.1 68.8h0M855.9 200.2h0M896.6 120.9h0M866.6 63.8h0M803.2 175.5h0M884.4 136.8h0"/>
<path stroke="#06A4FF" d="M373.3 849.6h0M368.2 890.9h0M326.2 851.2h0M329.5 836.2h0M363.5 868.6h0M375.8 857.6h0M351.6 868.8h0M372.1 851.2h0M350.5 891.8h0M344.5 838.4h0M350.2 808.4h0M357.4 878.2h0M335.0 826.2h0M350.0 887.3h0M346.2 836.6h0M333.8 823.8h0M347.8 797.4h0M312.5 822.5h0M343.7 860.3h0M375.5 848.7h0M612.0 831.0h0M370.7 852.7h0M352.7 883.2h0M346.9 847.3h0M349.7 860.8h0M345.2 796.9h0M364.0 847.0h0M343.5 900.3h0M365.7 866.0h0M356.0 895.4h0M370.9 866.9h0M376.6 821.1h0M381.6 860.3h0M338.7 854.9h0M876.6 374.6h0M363.6 858.6h0M370.1 861.8h0M383.7 862.8h0M358.6 876.1h0M800.0 682.8h0M372.6 817.7h0M372.6 863.3h0M335.7 792.0h0M342.2 841.2h0M350.5 845.5h0M351.2 893.9h0M332.5 799.5h0M353.4 885.2h0M342.9 794.0h0M865.0 379.8h0M334.9 837.6h0M348.4 836.7h0"/>
<path stroke="#C49A00" d="M942.0 723.2h0M905.5 766.1h0M974.4 836.1h0M906.7 797.7h0M886.0 867.1h0M966.0 664.0h0M910.2 788.8h0M991.9 793.2h0M967.0 833.4h0M996.1 717.0h0M916.8 841.6h0M913.0 897.1h0M902.8 835.3h0M925.5 756.9h0M885.8 835.8h0M884.2 878.6h0M947.7 735.8h0M934.0 736.8h0M879.6 876.8h0M996.1 827.7h0M934.7 902.6h0M970.3 719.9h0M969.6 733.3h0M928.7 662.4h0M906.6 831.7h0M912.0 767.5h0M871.9 840.3h0M947.6 724.3h0M889.6 834.8h0M977.0 779.8h0M979.8 753.7h0M978.7 845.2h0M974.8 832.1h0M923.3 857.1h0M921.5 753.5h0M999.1 810.8h0M983.0 712.9h0M921.3 726.1h0M973.7 740.9h0M920.0 767.3h0M888.1 787.5h0M952.6 782.3h0M852.3 844.3h0M977.6 805.1h0M922.4 817.2h0M994.7 803.7h0M953.3 815.9h0M977.6 692.5h0M995.5 801.8h0M910.9 856.0h0M901.5 760.5h0M925.5 747.1h0M938.6 801.9h0M904.3 887.7h0M932.1 889.3h0M954.5 838.4h0M988.3 715.2h0M938.0 873.3h0M986.7 780.3h0M926.4 735.2h0M882.0 882.5h0M935.4 733.9h0M958.8 745.8h0M944.8 836.3h0M950.0 826.9h0M924.1 819.9h0M991.3 764.2h0M884.4 882.7h0M954.5 834.9h0M909.4 819.3h0M940.5 894.6h0M971.1 825.3h0M944.2 818.9h0M957.5 773.4h0M934.7 716.8h0M949.0 865.9h0M991.5 795.9h0M929.7 838.2h0M981.0 706.7h0M912.2 818.1h0M916.6 790.3h0M919.5 868.1h0M990.0 704.1h0M983.7 785.6h0M945.7 719.1h0M875.7 845.6h0M949.2 800.2h0M890.6 850.7h0M905.1 760.6h0M899.9 770.1h0M906.7 865.5h0M908.4 777.0h0M994.4 750.8h0M715.8 835.0h0M855.2 847.1h0M897.1 734.1h0M903.2 841.6h0M919.4 769.3h0M966.0 737.5h0M945.7 822.1h0M982.0 847.3h0M931.3 733.5h0M924.8 794.2h0M949.9 725.5h0M921.8 773.0h0M907.6 890.1h0M976.6 708.1h0M923.8 904.6h0M948.5 669.8h0M966.1 707.4h0M912.8 858.9h0M919.8 870.6h0M812.0 837.5h0M894.3 860.2h0M914.7 671.0h0M968.3 668.7h0M945.2 805.4h0M893.7 853.6h0M995.9 776.3h0M940.0 852.3h0M917.9 888.0h0M977.3 768.1h0M972.8 855.6h0M889.0 874.7h0M951.7 840.4h0M908.4 786.9h0M927.0 817.1h0M915.1 844.3h0M935.3 810.7h0M888.0 871.9h0M967.0 755.3h0M867.7 820.2h0M951.1 766.5h0M932.7 896.2h0M883.3 849.5h0M939.3 737.0h0M975.8 736.5h0M982.0 805.0h0M933.3 758.0h0M875.2 817.5h0M916.0 727.3h0M952.0 800.2h0M903.3 770.6h0M962.0 865.2h0M967.8 762.1h0M946.1 802.4h0M987.0 804.9h0M839.3 851.4h0M995.9 748.6h0M923.9 721.8h0M910.1 822.2h0M941.3 870.9h0M929.7 824.9h0M881.3 824.4h0M978.8 841.3h0M996.7 714.8h0M965.0 691.8h0M969.6 853.8h0M899.3 855.8h0M983.9 789.3h0M976.6 741.9h0M889.7 815.2h0M967.7 774.4h0M889.5 767.7h0M948.2 686.8h0M961.1 836.5h0M879.1 826.2h0M988.6 708.0h0M886.2 801.7h0M938.1 775.0h0M969.5 820.8h0M995.4 799.7h0M959.5 878.2h0M951.6 715.9h0M907.1 852.4h0M970.7 863.2h0M939.0 767.4h0M870.2 842.1h0M890.8 877.7h0M981.9 750.1h0M961.9 723.6h0M892.4 785.6h0M944.0 890.1h0M903.9 783.1h0M868.3 860.2h0M956.7 818.7h0M939.3 796.1h0M940.5 873.9h0M876.2 858.6h0M976.2 757.1h0M839.4 854.0h0M977.6 814.6h0M967.1 729.7h0M934.3 741.6h0M944.9 734.2h0M880.4 817.6h0M975.3 680.6h0M930.5 757.1h0M926.4 864.4h0M940.4 811.0h0M886.5 815.7h0M881.4 796.6h0M963.5 863.8h0M946.6 766.5h0M941.0 831.4h0M983.5 839.6h0M934.7 768.1h0M979.4 837.6h0M944.1 780.4h0M887.8 840.6h0M959.0 736.3h0M917.5 797.0h0M883.4 872.9h0M992.3 814.7h0M971.3 694.3h0M955.4 829.8h0M952.2 877.7h0M926.7 724.2h0M928.2 894.2h0M987.3 745.1h0M922.5 814.8h0M961.1 797.7h0M953.0 812.1h0M972.3 822.4h0M975.7 716.4h0M970.4 831.5h0M923.7 824.4h0M921.4 708.2h0M987.8 765.1h0"/>
<path stroke="#FF66A8" d="M665.7 750.3h0M667.5 748.1h0M666.5 744.9h0M666.6 750.5h0M665.7 746.3h0M664.2 749.9h0M662.0 747.9h0"/>
<path stroke="#FB61D7" d="M662.2 616.3h0M698.2 589.1h0M696.0 592.4h0M663.8 622.8h0M698.3 589.2h0M694.1 593.7h0M684.9 600.1h0M666.4 618.6h0M658.8 621.3h0M685.3 599.5h0M695.8 589.6h0"/>
<path stroke="#00C094" d="M926.1 373.4h0M883.9 366.3h0M922.5 396.4h0M862.9 365.3h0M855.9 307.0h0M896.6 364.4h0M871.9 333.3h0M950.6 369.8h0M937.2 381.8h0M923.1 364.2h0M909.5 346.1h0M948.8 317.9h0M889.1 317.7h0M937.4 357.3h0M925.9 392.1h0M891.4 350.5h0M932.9 370.8h0M858.4 319.7h0M922.2 384.8h0M902.3 374.7h0M947.6 363.5h0M858.0 322.3h0M862.1 325.5h0M890.2 369.3h0M952.3 379.6h0M937.7 387.9h0M912.7 372.4h0M859.6 310.5h0M968.3 279.7h0M929.8 310.0h0M886.3 370.5h0M937.3 318.8h0M920.0 393.0h0M928.5 395.3h0M935.1 360.4h0M917.5 360.9h0M922.6 357.0h0M860.9 339.4h0M941.4 313.0h0M948.0 352.4h0M905.6 365.7h0M930.1 354.9h0M943.4 379.4h0M941.5 307.7h0M845.1 309.7h0M849.3 289.4h0M922.4 353.5h0M964.1 299.6h0M900.0 385.9h0M928.4 341.6h0M890.0 344.9h0M985.5 294.6h0M933.6 390.8h0M917.2 386.2h0M866.3 323.9h0M849.7 276.7h0M875.6 345.7h0M958.5 335.6h0M844.8 296.1h0M878.2 345.6h0M947.8 376.8h0M937.3 395.8h0"/>
<path stroke="#00B6EB" d="M888.0 560.6h0M891.5 449.0h0M887.8 590.9h0M882.2 608.0h0M884.7 644.8h0M845.7 446.9h0M954.1 648.4h0M905.9 637.2h0M860.6 525.1h0M861.2 492.6h0M879.6 500.4h0M849.4 502.9h0M863.7 459.9h0M910.2 626.8h0M916.4 610.8h0M872.9 527.3h0M893.1 578.2h0M908.0 602.8h0M861.9 517.1h0M886.3 558.4h0M884.1 608.8h0M886.4 569.0h0M908.7 635.6h0M879.3 555.2h0M894.8 617.8h0M877.4 501.2h0M847.4 454.2h0M867.2 517.2h0M861.2 507.2h0M846.0 511.7h0M880.3 591.9h0M891.8 458.4h0M894.8 699.9h0M891.8 593.4h0M954.9 654.4h0M924.6 623.8h0M889.2 628.8h0M863.4 456.3h0M892.1 645.0h0M805.7 797.2h0M864.8 520.0h0M896.0 672.2h0M880.0 494.7h0M893.8 587.7h0M939.8 652.9h0M891.3 576.2h0M866.2 462.1h0M868.2 510.0h0M881.5 554.0h0M896.5 464.8h0M902.5 650.2h0M891.1 590.4h0M889.7 463.2h0M877.5 513.6h0M902.4 573.3h0M953.0 635.7h0M882.6 651.2h0M910.1 602.1h0M879.9 486.4h0M882.0 653.8h0M885.3 439.6h0M877.3 634.3h0M894.6 598.8h0M886.8 612.7h0M860.4 519.1h0M849.0 513.0h0M857.0 505.4h0M862.5 505.0h0M866.3 504.7h0M875.6 481.4h0M847.0 518.4h0M888.8 556.2h0"/>
<path stroke="#99A800" d="M267.8 683.2h0M380.3 636.2h0M388.9 627.1h0M307.5 533.8h0M385.5 661.9h0M350.0 568.8h0M359.9 597.2h0M307.3 664.6h0M337.5 557.5h0M398.4 528.8h0M352.0 648.1h0M347.5 585.5h0M320.4 558.3h0M392.9 621.4h0M393.5 546.3h0M333.0 679.0h0M314.8 555.0h0M366.8 515.8h0M393.1 593.7h0M243.4 673.9h0M345.1 629.4h0M323.4 553.2h0M365.1 622.2h0M390.2 532.7h0M286.5 664.9h0M381.5 588.9h0M257.6 647.0h0M375.9 613.6h0M311.3 548.2h0M400.9 532.1h0M346.0 661.2h0M259.6 660.9h0M353.8 504.9h0M372.5 700.0h0M386.8 565.1h0M355.6 655.9h0M285.7 674.8h0M360.1 589.0h0M374.1 675.8h0M385.6 534.2h0M840.7 425.7h0M396.1 529.7h0M386.0 515.1h0M371.8 649.8h0M332.5 781.2h0M395.5 521.5h0M353.9 621.1h0M366.3 573.5h0M384.8 637.4h0M361.2 511.7h0M350.5 680.2h0M342.2 560.1h0M402.3 580.3h0M287.8 676.1h0M401.0 585.1h0M405.8 540.3h0M309.8 683.8h0M396.7 603.0h0M370.5 642.3h0M358.4 673.4h0M331.5 582.6h0M387.8 531.7h0M329.8 660.8h0M398.3 598.3h0M390.0 564.3h0M401.3 588.9h0M382.4 665.4h0M401.9 546.9h0M341.3 645.8h0M352.7 623.7h0M358.1 663.9h0M318.5 684.1h0M339.0 637.2h0M339.1 623.6h0M355.3 629.4h0M340.0 679.1h0M260.4 671.1h0M388.6 573.6h0M313.7 673.2h0M247.2 672.9h0M344.7 648.3h0M247.2 662.9h0M390.4 609.8h0M347.5 503.8h0M386.1 554.9h0M382.4 612.8h0M266.3 679.9h0M351.9 633.9h0M295.6 677.8h0M350.3 574.6h0M349.5 665.7h0M394.3 560.7h0M316.2 687.4h0M383.9 518.1h0M364.8 606.7h0M383.6 628.6h0M385.6 626.9h0M382.3 529.4h0M349.0 503.8h0M354.8 662.8h0M347.1 582.8h0M350.4 587.2h0M335.0 565.0h0M247.5 666.2h0M290.0 640.5h0M332.3 499.8h0M377.1 592.0h0M387.1 619.6h0M390.7 656.9h0M320.4 554.2h0M365.5 510.9h0M356.4 550.8h0M305.0 671.7h0M253.0 678.3h0M363.8 741.2h0M365.8 723.8h0M355.8 647.2h0M281.1 666.1h0M367.0 665.0h0M346.4 632.3h0M305.5 541.8h0M378.9 514.3h0M359.4 592.0h0M369.4 680.8h0M340.5 601.8h0M352.4 502.4h0M361.9 550.3h0M330.2 555.6h0M405.9 548.8h0M337.9 678.6h0M336.1 660.8h0M343.9 663.2h0M391.3 608.1h0M868.5 651.6h0M344.4 603.7h0"/>
<path stroke="#A58AFF" d="M195.0 733.8h0M290.0 760.4h0M278.8 822.8h0M328.0 790.5h0M261.5 808.7h0M263.7 810.4h0M278.4 748.9h0M232.9 766.8h0M290.2 756.6h0M291.2 758.2h0M279.0 828.4h0M279.6 742.3h0M259.3 762.5h0M263.1 806.9h0M291.9 729.4h0M257.6 764.9h0M276.9 747.1h0M284.0 743.0h0M286.8 828.0h0M279.9 753.8h0M288.6 847.1h0M283.2 833.4h0M277.9 840.2h0M247.3 776.7h0M252.1 782.7h0M245.1 766.3h0M250.1 774.3h0M249.1 792.9h0M282.4 759.9h0M284.3 840.4h0M263.7 815.3h0M195.0 733.8h0M267.0 759.8h0M299.0 763.1h0M306.2 789.2h0M289.7 841.1h0M253.3 797.2h0M276.2 835.5h0M246.7 791.6h0M290.4 739.7h0M300.3 759.3h0M272.5 756.9h0M275.0 803.8h0"/>
<path stroke="#DF70F8" d="M842.1 873.4h0M845.8 870.8h0M615.2 545.9h0M577.0 604.4h0M577.8 617.0h0M839.8 871.4h0M618.9 542.1h0M854.0 871.1h0M579.3 616.5h0M582.2 602.0h0M586.8 588.9h0M619.2 540.6h0M578.7 608.8h0M577.2 607.7h0M592.8 597.2h0M591.2 640.5h0M580.9 602.0h0M582.7 600.4h0M592.0 582.2h0M580.5 618.4h0"/>
<path stroke="#00BC56" d="M998.0 247.2h0M831.1 825.9h0M915.5 177.1h0M959.8 201.6h0M995.2 283.6h0M976.8 180.3h0M982.7 145.2h0M927.9 250.3h0M951.8 282.1h0M917.2 154.8h0M937.8 223.1h0M945.3 266.1h0M974.6 168.7h0M905.3 247.7h0M990.9 238.8h0M957.6 271.5h0M942.7 143.3h0M877.5 280.3h0M946.2 140.6h0M966.1 256.3h0M864.5 253.5h0M932.6 144.2h0M1008.9 238.6h0M989.8 147.4h0M897.2 123.3h0M944.0 185.1h0M985.3 265.6h0M793.0 740.0h0M959.6 210.3h0M960.7 179.6h0M1007.0 270.6h0M960.6 149.6h0M976.9 231.1h0M927.4 270.7h0M914.8 151.4h0M977.5 258.0h0M937.2 131.4h0M1011.3 246.7h0M936.3 260.3h0M935.0 251.8h0M964.3 253.6h0M966.8 242.8h0M906.4 285.9h0M962.7 208.4h0M981.0 157.6h0M982.9 253.2h0M961.2 254.8h0M954.7 199.1h0M797.5 747.5h0M956.4 170.5h0M977.2 275.1h0M900.7 151.3h0M932.3 263.0h0M975.8 241.5h0M960.0 239.4h0M967.9 180.4h0M937.2 228.7h0M981.9 233.7h0M989.7 188.7h0M995.5 209.6h0M960.5 136.4h0M994.5 259.0h0M944.0 169.5h0M1001.9 282.7h0M984.8 207.5h0M946.9 152.8h0M959.1 203.6h0M954.0 258.2h0M1002.0 228.4h0M970.5 160.4h0M943.4 232.6h0M917.4 157.7h0M841.2 264.5h0M931.5 209.1h0M930.8 146.8h0M965.2 204.8h0M949.8 212.4h0M993.0 263.9h0M914.2 239.5h0M953.5 157.8h0M965.9 209.0h0M944.3 138.1h0M969.0 151.4h0M935.9 140.6h0M957.8 150.8h0M998.3 285.4h0M948.1 280.5h0M919.7 177.8h0M952.6 255.6h0M1004.5 212.3h0M961.5 138.2h0M936.1 243.0h0M1000.4 263.2h0M984.0 210.0h0M976.9 164.8h0M987.7 154.4h0M949.3 243.7h0M886.0 279.6h0M962.1 250.0h0M955.2 156.0h0M873.4 130.3h0M961.4 252.6h0M940.1 160.4h0M965.5 225.1h0M935.9 197.9h0M1004.2 220.1h0M958.5 223.3h0M994.5 242.8h0M986.0 244.8h0M968.9 132.9h0M940.1 266.0h0M920.2 196.3h0M924.4 133.4h0M998.2 266.1h0M956.3 279.5h0M992.4 164.5h0M792.9 740.0h0M969.0 254.6h0M957.0 262.6h0M939.9 260.9h0M973.2 158.0h0M986.0 139.3h0M864.5 849.2h0M933.3 303.0h0M893.1 293.4h0M975.2 187.5h0M893.2 636.0h0M998.1 279.7h0M979.4 189.0h0M943.5 223.2h0M995.6 240.2h0M895.2 280.6h0M985.7 268.4h0M895.3 273.9h0M956.0 198.1h0M980.8 144.5h0"/>
<path stroke="#00BC56" d="M872.7 273.3h0M951.8 159.1h0M930.9 241.2h0M955.1 196.7h0M990.8 143.4h0M960.2 147.6h0M985.6 141.1h0M933.4 227.2h0M902.8 285.2h0M979.9 140.6h0M956.7 136.1h0M979.7 237.6h0M961.8 214.5h0M978.2 208.5h0M990.5 235.8h0M936.3 209.1h0M982.8 167.2h0M950.6 195.5h0M815.0 815.1h0M984.7 158.2h0M915.2 145.6h0M979.5 234.3h0M994.0 182.0h0M938.1 210.0h0M975.5 135.6h0M974.8 163.5h0M1000.0 198.8h0M947.0 188.4h0M959.7 196.5h0M952.5 139.0h0M904.2 276.6h0M970.7 286.8h0M1002.3 268.2h0M939.6 145.9h0M994.4 246.2h0M804.0 840.3h0M889.7 332.6h0M821.5 853.9h0M896.5 461.0h0M985.6 145.9h0M1000.7 191.3h0M951.9 233.6h0M928.9 160.9h0M935.6 138.6h0M933.9 273.0h0M993.6 230.1h0M939.0 171.2h0M972.7 280.7h0M982.7 213.4h0M974.7 133.5h0M981.0 162.0h0M976.8 132.2h0M954.8 152.7h0M947.5 197.8h0M908.0 288.6h0M969.7 257.5h0M957.9 138.1h0M996.7 258.5h0M986.8 178.6h0M992.8 289.7h0M983.8 152.8h0M934.6 262.2h0M994.0 226.3h0M952.2 206.4h0M955.2 127.5h0M985.8 248.3h0M960.8 145.3h0M989.1 256.1h0M883.6 142.7h0M840.0 234.8h0M912.4 281.6h0M980.5 154.0h0M1004.2 230.7h0M942.2 267.4h0M985.2 169.2h0M984.6 143.6h0M989.5 261.4h0M946.6 137.0h0M987.2 224.2h0M967.0 227.6h0M975.0 226.1h0M976.4 260.8h0M958.3 125.0h0M925.6 164.8h0M972.3 205.9h0M955.1 120.6h0M963.8 199.6h0M797.5 747.7h0M952.8 193.4h0M943.3 209.3h0M909.5 284.4h0M1005.1 288.4h0M957.4 127.8h0M984.5 150.5h0M979.1 162.9h0M981.5 240.1h0M948.3 259.6h0M943.7 275.7h0M991.0 224.4h0M1008.0 242.7h0M958.1 215.1h0M969.2 264.8h0M962.3 247.5h0M947.8 273.9h0M907.1 277.2h0M937.0 251.0h0M962.2 162.7h0M897.6 288.1h0M925.5 195.9h0M960.2 258.0h0M988.3 238.3h0M1000.9 265.5h0M961.2 131.1h0M994.2 196.7h0M986.9 287.6h0M921.0 182.7h0M887.8 174.6h0M973.8 216.5h0M988.2 249.3h0M933.2 275.0h0M941.0 133.4h0M951.5 178.8h0M974.4 248.1h0M974.1 141.9h0M944.4 263.2h0M949.0 217.1h0M966.0 264.0h0M930.1 181.2h0M847.0 273.8h0M965.9 187.1h0"/>
<path stroke="#E38900" d="M835.0 188.0h0M910.8 89.8h0M871.9 112.3h0M920.5 249.2h0M910.9 227.5h0M874.4 92.0h0M845.6 165.1h0M848.5 186.8h0M865.9 208.3h0M824.8 197.0h0M889.3 88.2h0M880.4 56.9h0M850.6 141.6h0M905.4 117.6h0M918.7 99.4h0M894.5 288.8h0M846.7 192.3h0M889.4 121.9h0M845.5 85.9h0M844.8 168.9h0M829.1 186.1h0M905.2 230.7h0M857.2 167.5h0M887.7 70.9h0M868.8 183.4h0M913.0 244.5h0M828.8 247.9h0M878.9 140.5h0M909.4 78.6h0M819.0 102.6h0M875.5 244.3h0M844.2 142.7h0M850.2 70.1h0M824.4 120.0h0M908.4 257.1h0M912.7 106.4h0M861.7 67.7h0M899.4 255.1h0M835.6 177.2h0M863.9 226.4h0M858.7 96.8h0M876.6 239.8h0M828.5 200.2h0M897.7 246.3h0M895.5 215.2h0M821.4 192.7h0M839.1 110.8h0M919.3 156.7h0M921.3 252.0h0M854.8 262.8h0M881.4 86.6h0M816.5 152.7h0M832.9 265.5h0M850.1 268.9h0M879.9 83.0h0M911.7 113.7h0M936.8 311.2h0M823.9 134.2h0M871.4 56.6h0M906.4 120.2h0M861.6 134.6h0M940.3 274.5h0M856.2 72.0h0M844.6 126.7h0M846.3 148.3h0M898.4 197.6h0M898.5 143.4h0M864.6 114.7h0M865.0 73.9h0M838.7 82.9h0M894.4 104.3h0M847.2 88.9h0M875.5 63.4h0M867.5 130.8h0M862.0 62.7h0M839.8 260.9h0M878.6 232.0h0M804.7 189.3h0M820.2 154.7h0M815.3 160.4h0M881.9 157.2h0M872.9 190.7h0M823.9 232.8h0M861.5 117.9h0M883.6 194.8h0M897.5 115.3h0M859.0 218.2h0M850.7 215.9h0M878.5 302.5h0M815.1 210.1h0M852.2 137.6h0M881.2 70.4h0M914.7 114.0h0M851.6 107.9h0M822.2 148.6h0M908.2 112.5h0M867.0 173.6h0M805.5 167.7h0M813.6 214.6h0M865.2 256.3h0M854.3 126.9h0M829.7 108.5h0M871.8 152.6h0M833.2 176.3h0M908.3 77.1h0M909.4 197.6h0M833.9 136.4h0M848.2 86.1h0M874.2 172.2h0M896.6 64.2h0M867.5 218.5h0M884.5 86.5h0M826.4 174.0h0M905.9 201.1h0M862.5 183.3h0M848.8 111.4h0M883.5 134.9h0M836.5 116.6h0M817.5 204.6h0M874.3 97.7h0M901.4 136.1h0M871.8 137.2h0M802.6 153.4h0M830.8 235.9h0M859.3 123.8h0M842.2 138.3h0M837.8 103.5h0M847.4 109.0h0M866.9 193.6h0M912.5 119.0h0M844.1 230.3h0M881.5 228.2h0M871.9 235.5h0M884.0 224.6h0M835.6 141.4h0M863.4 71.0h0M829.3 167.5h0M896.6 225.4h0M897.0 92.7h0M844.0 79.7h0M896.4 94.3h0M816.1 186.8h0M862.1 166.1h0M868.3 110.4h0M881.6 76.2h0M919.2 230.5h0M832.2 185.0h0M836.7 136.5h0M895.5 194.4h0M855.9 192.6h0M833.2 121.7h0M837.2 73.8h0M905.0 223.7h0M823.9 143.9h0M870.1 141.4h0M851.1 138.8h0M880.4 78.4h0M858.3 119.5h0M868.9 213.7h0M903.6 256.7h0M893.9 93.0h0M854.5 203.4h0M898.8 217.9h0M827.3 152.9h0M853.7 205.1h0M867.7 197.7h0M897.7 202.0h0M903.2 222.2h0M866.8 70.2h0M857.3 81.4h0M889.3 232.1h0M868.8 136.6h0M818.3 216.9h0M840.7 193.0h0M801.9 155.5h0M854.9 215.6h0M820.6 213.2h0M829.3 87.9h0M853.0 88.9h0M905.2 77.9h0M897.5 80.3h0M840.1 145.6h0M893.9 108.1h0M837.5 113.1h0M849.7 164.3h0M917.8 246.9h0M895.4 210.4h0M901.3 94.2h0M839.5 180.3h0M866.2 84.6h0M872.2 183.4h0M904.0 93.0h0M896.7 445.3h0M870.3 216.6h0M853.1 242.5h0M885.7 233.7h0M876.7 89.1h0M899.7 98.6h0M916.0 230.3h0M850.7 148.0h0M822.0 211.0h0M812.5 185.3h0M893.0 98.2h0M905.5 285.5h0M863.8 229.8h0M867.7 100.8h0M849.8 87.3h0M889.0 209.7h0M895.0 85.4h0M836.4 86.3h0M866.1 88.1h0M841.7 82.0h0M875.3 170.1h0M849.5 136.5h0"/>
<path stroke="#A58AFF" d="M302.5 845.0h0M215.6 757.6h0M282.8 740.9h0M231.1 762.0h0M300.0 838.8h0M293.4 754.5h0M285.4 823.5h0M272.7 828.3h0M232.3 757.6h0M267.5 795.5h0M294.9 736.5h0M281.7 761.7h0M242.8 765.7h0M252.5 779.4h0M310.5 762.9h0M287.0 833.9h0M312.5 847.0h0M245.1 763.9h0M285.2 834.3h0M256.1 799.3h0M286.3 752.3h0M252.2 765.5h0M262.5 762.2h0M233.6 762.5h0M278.4 751.4h0M289.1 830.5h0M251.4 793.2h0M302.7 763.4h0M297.7 760.9h0M276.2 763.5h0M262.2 816.0h0M271.6 836.1h0M245.4 778.1h0M225.0 758.1h0M251.8 787.6h0M291.9 740.2h0M246.8 762.9h0M283.3 763.1h0M269.3 762.3h0M280.5 757.2h0M276.0 761.9h0M273.4 830.6h0M248.3 795.2h0M298.2 748.6h0M215.0 746.2h0M231.0 760.3h0M279.0 746.5h0M301.2 780.5h0M274.5 760.9h0M298.4 745.7h0M293.8 818.0h0M286.4 842.6h0M292.6 738.1h0M288.8 758.4h0M286.1 749.2h0M290.1 836.0h0M277.9 833.2h0M272.9 832.7h0M251.3 795.1h0"/>
<path stroke="#FB61D7" d="M664.3 618.1h0M687.8 598.9h0M695.0 593.8h0M665.8 614.6h0M691.9 595.9h0M696.2 590.0h0M667.3 613.1h0M693.5 591.3h0M693.5 592.7h0M699.8 587.0h0"/>
<path stroke="#99A800" d="M349.3 565.5h0M375.1 636.1h0M330.8 668.4h0M387.7 623.4h0M395.3 545.7h0M360.3 502.5h0M377.9 671.1h0M255.7 677.5h0M362.5 495.0h0M377.2 569.7h0M369.0 571.1h0M364.4 582.4h0M352.5 743.8h0M366.1 660.7h0M362.1 531.2h0M319.3 668.6h0M373.2 530.6h0M248.7 661.0h0M384.0 513.5h0M362.5 740.0h0M389.2 560.2h0M322.5 541.2h0M368.2 507.0h0M267.4 649.2h0M331.6 623.2h0M372.4 669.2h0M364.7 658.0h0M381.3 500.8h0M297.2 675.8h0M290.3 662.4h0M384.2 619.4h0M341.6 675.6h0M298.7 539.5h0M830.7 417.8h0M367.5 558.0h0M355.1 555.9h0M360.5 672.7h0M377.6 668.1h0M377.6 604.3h0M347.5 502.2h0M364.1 609.6h0M266.4 654.4h0M390.6 546.0h0M373.0 639.9h0M349.5 592.6h0M384.9 654.6h0M269.9 678.4h0M390.9 594.5h0M326.1 668.9h0M336.2 781.2h0M385.0 659.2h0M337.3 643.9h0M332.5 498.8h0M348.0 685.6h0M382.8 600.1h0M387.1 641.9h0M394.0 605.7h0M271.2 691.2h0M357.3 616.9h0M395.5 620.7h0M247.0 674.9h0M396.9 569.4h0M371.1 577.4h0M301.9 540.9h0M302.4 666.0h0M399.0 568.6h0M336.5 656.2h0M287.0 668.5h0M347.5 514.0h0M362.5 646.5h0M360.8 652.7h0M258.6 649.8h0M324.3 645.0h0M324.1 557.9h0M352.4 660.5h0M379.5 536.1h0M372.2 598.0h0M373.8 546.0h0M352.2 682.8h0M384.3 624.2h0M344.3 683.2h0M299.6 677.3h0M371.1 537.4h0M365.0 554.2h0M370.3 568.4h0M334.8 653.1h0M350.6 599.7h0M317.5 666.4h0M390.0 587.4h0M354.8 639.2h0M361.2 565.1h0M317.8 550.3h0M350.7 672.2h0M335.0 557.5h0M382.8 597.7h0M382.5 622.0h0M382.6 643.6h0M373.9 643.9h0M377.7 619.2h0M381.0 609.7h0M367.0 651.6h0M248.0 656.9h0M385.9 611.9h0M345.0 593.8h0M338.3 669.6h0M388.8 517.6h0M353.0 670.3h0M333.9 660.4h0M384.8 585.6h0M399.0 534.5h0M386.0 518.5h0M391.1 562.0h0M379.7 599.2h0M375.2 642.1h0M372.4 547.8h0M387.4 608.2h0M373.7 618.2h0M362.7 668.0h0M388.8 661.6h0M384.8 526.8h0M398.7 531.9h0M340.5 681.3h0M312.6 678.5h0M391.6 646.9h0M361.2 755.0h0M334.4 582.6h0M271.4 675.3h0M390.5 618.8h0M258.2 656.0h0M346.8 600.8h0M364.9 630.7h0M303.2 537.0h0M389.8 513.5h0M312.8 544.6h0M372.0 504.3h0M355.4 624.1h0M369.9 624.5h0M376.3 502.7h0M321.0 664.1h0"/>
<path stroke="#FF66A8" d="M830.2 131.0h0M664.3 745.5h0M671.0 759.8h0M674.5 764.5h0"/>
<path stroke="#00C094" d="M847.3 317.8h0M962.7 301.5h0M901.9 358.8h0M943.5 385.3h0M941.5 379.0h0M935.5 389.6h0M966.7 315.8h0M928.2 379.1h0M956.2 380.4h0M954.4 335.0h0M969.0 320.2h0M849.7 293.0h0M847.6 278.0h0M858.1 312.0h0M934.3 319.8h0M865.6 329.5h0M946.1 336.4h0M846.9 281.1h0M912.3 344.3h0M868.2 314.9h0M919.5 352.5h0M871.0 367.0h0M858.6 325.0h0M893.8 354.9h0M925.3 394.1h0M941.6 354.5h0M941.5 333.4h0M865.8 321.9h0M907.4 346.3h0M849.3 279.4h0M959.8 329.3h0M925.1 360.8h0M905.5 323.1h0M854.4 329.1h0M932.8 379.5h0M862.1 362.1h0M919.5 366.6h0M953.7 303.5h0M941.7 369.0h0M926.9 375.4h0M928.2 350.8h0M977.1 318.6h0M967.4 307.7h0M930.0 348.4h0M851.1 328.8h0M937.0 363.3h0M937.1 373.0h0M940.8 397.2h0M884.1 368.4h0M947.7 320.3h0M846.4 284.5h0M933.9 369.0h0M899.7 371.5h0M935.6 375.5h0M867.5 338.3h0M940.5 388.3h0M914.4 345.4h0M957.1 327.4h0M899.2 388.7h0M927.1 356.8h0M942.0 343.2h0M928.3 322.9h0M950.3 366.6h0M868.6 330.0h0M840.5 287.8h0M864.5 270.5h0M904.9 344.2h0M857.1 292.8h0M859.3 313.2h0M918.2 371.9h0M915.9 377.8h0M942.0 382.6h0M896.6 352.2h0M899.2 369.2h0M892.1 374.3h0M887.5 342.9h0M917.5 368.3h0M920.1 346.9h0M866.0 331.7h0M939.2 368.9h0M897.4 349.5h0M875.7 357.2h0M880.4 349.5h0M902.7 365.9h0"/>
<path stroke="#53B400" d="M244.9 550.6h0M186.0 636.3h0M192.2 678.6h0M258.8 532.0h0M176.5 727.8h0M258.8 566.2h0M206.4 602.5h0M206.0 678.9h0M144.6 661.8h0M324.5 466.9h0M182.9 641.6h0M192.3 618.0h0M146.0 634.5h0M316.1 478.6h0M325.6 461.2h0M248.0 560.2h0M190.7 653.4h0M212.8 622.8h0M161.8 607.0h0M240.1 552.0h0M180.2 635.9h0M263.8 567.0h0M149.6 637.0h0M174.7 683.3h0M163.0 654.1h0M196.9 634.8h0M309.7 446.2h0M252.3 589.3h0M202.9 680.6h0M252.2 556.1h0M344.0 453.2h0M172.8 637.0h0M320.2 484.0h0M150.3 658.6h0M297.0 498.0h0M194.1 695.0h0M251.1 602.7h0M247.9 589.8h0M152.8 653.7h0M176.0 706.0h0M190.9 671.2h0M169.8 706.9h0M196.3 686.5h0M239.4 617.9h0M193.8 679.0h0M158.3 610.1h0M160.2 613.4h0M173.6 733.5h0M209.3 608.5h0M156.8 669.4h0M218.3 665.8h0M337.0 622.5h0M152.5 685.1h0M172.1 648.4h0M195.2 703.0h0M209.6 620.3h0M207.4 672.5h0M182.5 690.1h0M157.5 686.2h0M272.5 576.2h0M153.9 620.9h0M221.0 614.2h0M200.1 630.2h0M195.9 684.4h0M188.1 701.0h0M184.7 668.2h0M227.5 615.5h0M162.9 660.0h0M211.2 655.8h0M249.7 556.4h0M335.5 621.2h0M161.7 642.0h0M176.0 630.2h0M194.0 687.0h0M273.8 609.5h0M157.1 699.6h0M194.4 623.3h0M192.0 700.6h0M200.7 658.2h0M184.5 680.1h0M213.7 628.3h0M173.9 681.4h0M152.9 637.7h0M282.5 528.8h0M234.3 639.1h0M183.8 734.3h0M165.3 700.2h0M208.9 625.1h0M305.4 493.1h0M303.9 490.8h0M310.6 489.6h0M173.1 676.9h0M165.3 613.9h0M197.3 663.9h0M189.8 713.2h0M218.9 658.8h0M205.8 625.6h0M187.5 645.8h0M149.2 650.2h0M154.0 681.7h0M167.2 680.8h0M210.6 677.2h0M235.3 631.5h0M156.3 627.4h0M191.6 695.2h0M177.1 697.8h0M181.0 705.5h0M196.2 693.1h0M198.7 695.0h0M243.0 549.5h0M304.2 676.8h0M207.9 676.1h0M203.7 631.2h0M181.2 735.3h0M157.2 673.4h0"/>
<path stroke="#06A4FF" d="M375.6 852.6h0M362.9 872.6h0M311.2 829.2h0M381.6 862.9h0M343.8 822.5h0M384.2 868.0h0M365.0 851.2h0M357.6 897.4h0M356.8 799.4h0M344.0 798.4h0M366.9 850.1h0M371.7 868.5h0M342.4 843.3h0M352.9 806.7h0M372.6 819.7h0M355.1 888.4h0M351.0 849.1h0M384.1 870.0h0M364.9 874.9h0M356.7 810.0h0M383.8 856.8h0M350.0 794.0h0M375.0 876.9h0M358.4 855.2h0M367.8 872.6h0M379.4 876.4h0M331.2 861.8h0M359.1 882.3h0M340.1 792.4h0M374.7 866.2h0M364.8 855.4h0M339.3 852.7h0M346.2 840.7h0M372.0 825.1h0M345.2 801.5h0M362.5 760.8h0M338.0 790.3h0M378.9 871.4h0M369.6 875.2h0M364.7 811.8h0M378.7 858.6h0M359.5 800.3h0M356.6 886.6h0M340.0 821.2h0M371.9 886.3h0M358.2 802.6h0M338.7 837.8h0M373.5 855.1h0M375.7 816.4h0M340.1 859.4h0"/>
<path stroke="#00B6EB" d="M851.7 465.5h0M821.3 830.5h0M860.8 521.3h0M937.7 644.2h0M900.8 449.8h0M906.5 608.1h0M881.0 635.0h0M865.0 525.1h0M880.2 557.2h0M854.9 504.6h0M903.0 463.2h0M799.9 682.7h0M873.0 490.5h0M923.4 627.4h0M890.0 586.6h0M862.6 404.5h0M895.0 564.6h0M908.9 607.3h0M889.5 613.5h0M885.1 452.0h0M883.2 648.3h0M866.8 675.4h0M902.2 466.8h0M856.1 526.3h0M853.7 508.7h0M880.1 622.0h0M886.7 665.2h0M904.5 599.9h0M923.5 639.3h0M883.8 455.9h0M903.7 602.5h0M853.0 504.0h0M915.3 631.1h0M894.3 632.2h0M895.9 657.4h0M887.4 610.7h0M896.2 445.2h0M800.3 682.8h0M860.1 516.6h0M906.9 472.6h0M876.5 485.8h0M863.0 515.3h0M884.5 562.1h0M855.7 510.8h0M884.6 557.7h0M877.3 535.7h0M892.9 656.5h0M883.2 473.5h0M911.2 584.7h0M885.1 617.6h0M865.7 675.7h0M864.7 509.1h0M895.0 654.7h0M886.9 620.8h0M851.1 525.0h0M906.4 600.8h0M858.7 465.1h0M883.9 636.2h0M845.0 505.4h0M847.8 509.5h0M846.3 432.5h0M883.2 660.5h0M864.8 513.9h0M887.9 434.9h0M844.2 503.6h0M865.8 512.1h0M884.5 624.3h0M899.8 651.9h0M885.1 588.6h0M900.0 674.0h0M886.6 654.0h0M878.5 581.9h0M909.5 630.5h0M884.3 550.9h0M892.2 563.8h0M850.3 489.7h0M885.2 597.9h0M846.7 506.9h0M888.0 583.6h0M900.0 639.2h0"/>
<path stroke="#00BFC4" d="M750.0 748.9h0M758.7 846.9h0M703.4 817.9h0M690.7 829.1h0M674.2 840.3h0M804.8 854.9h0M698.9 837.9h0M746.5 803.4h0M731.7 836.1h0M685.1 836.8h0M751.8 803.3h0M783.5 756.7h0M738.5 799.5h0M753.5 793.4h0M766.2 836.5h0M799.0 836.1h0M640.4 838.8h0M780.4 705.7h0M743.5 755.7h0M709.7 817.3h0M778.7 761.5h0M708.8 806.0h0M780.0 702.6h0M722.6 815.6h0M744.3 764.3h0M699.3 825.8h0M741.1 808.9h0M778.6 709.9h0M619.9 843.2h0M683.1 831.2h0M641.6 836.0h0M733.0 834.8h0M615.6 838.8h0M771.6 846.6h0M735.7 808.4h0M729.1 798.7h0M732.1 787.8h0M730.4 791.8h0M772.6 849.5h0M752.0 823.1h0M788.7 744.2h0M704.3 807.6h0M779.8 751.5h0M781.9 706.7h0M628.0 830.9h0M748.7 747.1h0M768.8 850.7h0M752.0 828.3h0M791.9 751.4h0M767.4 779.4h0M787.3 695.7h0M782.1 704.5h0M805.1 840.9h0M639.2 850.4h0M756.9 738.6h0M629.2 846.7h0M726.0 795.4h0M708.1 820.6h0M748.2 786.1h0M692.1 825.1h0M624.1 838.9h0M722.5 819.1h0M691.6 835.0h0M770.6 843.7h0M790.5 753.3h0M790.8 749.5h0M721.4 810.9h0M778.9 714.6h0M696.0 804.2h0M736.6 834.8h0M774.3 844.5h0M731.9 820.0h0M780.0 716.5h0M654.2 833.4h0M745.9 785.4h0M640.3 846.9h0M695.3 827.4h0M641.6 844.2h0M805.9 797.2h0M760.8 831.7h0M777.1 753.4h0"/>
<path stroke="#DF70F8" d="M582.0 599.1h0M575.7 605.8h0M573.5 615.8h0M577.7 603.9h0M575.5 614.3h0M842.2 868.8h0M577.3 610.4h0M583.7 594.0h0M844.6 875.8h0M586.6 636.2h0M809.4 853.2h0M837.6 872.2h0M572.5 604.7h0M844.8 867.9h0M578.5 618.0h0M588.9 588.6h0M849.3 868.3h0M590.5 588.2h0M584.6 627.3h0M573.2 616.0h0M584.3 629.1h0M852.6 869.4h0M577.4 615.2h0M577.6 612.3h0M578.6 602.8h0M577.4 612.6h0"/>
<path stroke="#F8766D" d="M258.5 374.3h0M306.7 499.4h0M339.2 361.1h0M327.0 346.5h0M330.1 451.2h0M276.3 443.1h0M323.9 293.8h0M214.5 393.7h0M176.0 437.3h0M318.0 362.7h0M357.7 415.0h0M188.0 413.5h0M233.1 407.7h0M256.0 379.1h0M248.5 443.0h0M358.4 319.5h0M172.1 376.6h0M324.8 345.0h0M301.5 347.7h0M279.4 343.4h0M240.5 350.8h0M252.7 448.7h0M364.2 388.1h0M191.2 353.6h0M326.2 510.0h0M266.0 349.6h0M335.0 415.3h0M309.4 411.4h0M313.3 379.5h0M310.0 509.5h0M293.8 389.2h0M306.9 447.3h0M266.0 443.5h0M256.7 429.7h0M239.9 380.7h0M320.0 323.0h0M281.9 457.5h0M323.2 370.5h0M338.3 345.0h0M167.9 420.0h0M214.6 365.4h0M253.7 365.2h0M156.2 424.4h0M344.3 299.6h0M174.7 368.1h0M304.1 443.3h0M281.1 345.0h0M326.5 442.6h0M359.2 477.7h0M314.9 506.9h0M244.9 418.2h0M175.4 420.9h0M336.2 449.7h0M297.4 298.8h0M319.9 307.4h0M175.0 404.6h0M353.4 384.3h0M340.9 370.4h0M228.3 322.3h0M326.6 321.8h0M226.2 377.2h0M224.6 367.2h0M315.0 437.7h0M161.3 428.6h0M291.2 353.7h0M342.5 398.3h0M287.0 424.8h0M202.2 464.7h0M150.2 394.1h0M224.4 388.2h0M292.0 339.7h0M271.2 498.8h0M310.8 359.4h0M289.4 298.1h0M243.4 488.4h0M286.3 420.6h0M221.4 343.9h0M334.1 324.0h0M322.8 368.1h0M195.6 358.9h0M148.6 385.7h0M244.0 482.2h0M322.5 320.4h0M248.8 414.5h0M270.4 338.1h0M270.0 409.7h0M303.9 373.1h0M237.6 336.5h0M192.6 393.1h0M167.0 424.7h0M201.1 335.8h0M185.4 363.6h0M350.9 336.2h0M244.4 330.7h0M212.2 428.8h0M271.9 334.3h0M234.7 446.1h0M282.6 297.6h0M309.4 350.7h0M299.3 296.5h0M355.0 356.8h0M355.4 428.4h0M222.5 420.9h0M317.0 364.6h0M304.5 363.7h0M322.0 532.5h0M311.5 412.5h0M278.1 406.8h0M268.7 434.2h0M334.4 401.4h0M258.7 409.3h0M316.7 489.8h0M211.7 451.0h0M249.2 424.5h0M299.6 377.7h0M291.3 498.3h0M303.9 375.3h0M360.3 422.8h0M310.8 403.4h0M297.0 386.3h0M204.6 348.8h0M200.1 452.3h0M306.3 289.3h0M318.6 509.1h0M184.6 436.5h0M313.7 485.4h0M308.9 347.8h0M316.7 398.7h0M325.9 394.9h0M303.7 436.7h0M342.7 436.8h0M258.6 413.3h0M342.2 297.2h0M345.8 321.5h0M289.3 357.4h0M352.3 438.8h0M164.6 407.3h0M350.1 383.4h0M248.4 345.2h0M197.4 398.3h0M163.3 396.6h0M294.6 312.7h0M285.6 349.6h0M315.8 503.5h0M336.8 368.5h0M218.9 460.8h0M349.3 448.9h0M307.2 331.6h0M321.9 485.3h0M249.1 373.0h0M228.3 435.6h0M189.4 459.6h0M343.7 442.3h0M230.4 354.2h0M332.2 390.5h0M144.6 395.7h0M172.2 400.7h0M196.6 423.9h0M231.0 366.5h0M199.3 400.4h0M352.5 388.0h0M279.9 302.9h0M335.6 395.3h0M280.2 319.5h0M290.8 400.5h0M157.0 378.8h0M294.6 326.0h0M310.1 288.0h0M323.8 383.2h0M313.1 309.0h0M267.2 301.4h0M616.0 600.4h0M155.4 378.0h0M280.6 306.9h0M299.0 303.7h0M165.4 385.1h0M257.9 479.1h0M154.8 387.0h0M342.6 337.2h0M313.6 294.1h0M185.4 389.0h0M295.4 491.8h0M263.8 419.1h0M335.9 326.1h0M185.1 434.4h0M284.2 393.3h0M198.1 452.4h0M280.4 398.5h0M289.2 334.8h0M318.6 367.0h0M338.1 401.7h0M217.8 431.5h0M188.9 448.1h0M247.5 359.6h0M158.3 413.7h0M255.7 331.3h0M308.1 328.6h0M238.5 323.9h0M167.1 415.3h0M309.7 313.1h0M311.9 312.3h0M230.7 457.6h0M174.5 413.5h0M337.7 309.5h0M313.0 462.2h0M281.5 482.3h0M313.2 304.6h0M352.9 343.6h0M285.2 385.7h0M234.7 367.0h0M285.4 482.6h0M302.8 395.0h0M294.5 379.8h0M329.7 419.5h0M242.8 471.3h0M203.0 426.2h0M246.6 351.6h0M251.1 324.8h0M166.9 430.9h0M308.5 291.0h0M312.7 504.7h0M166.9 418.2h0M293.4 306.9h0M282.6 423.7h0M194.9 349.8h0M259.6 355.2h0M332.6 430.1h0M338.3 445.2h0M203.8 428.2h0M307.5 292.3h0M321.9 420.4h0M351.3 365.2h0M188.1 466.7h0M278.8 388.5h0M317.5 300.2h0M188.9 432.7h0M243.5 475.8h0M254.1 357.3h0M268.8 358.9h0M285.2 312.9h0M267.0 745.0h0M338.5 408.7h0M321.4 340.0h0M288.9 510.7h0M247.1 430.2h0M260.0 810.0h0M257.5 802.5h0M281.7 359.3h0M317.0 325.6h0M285.9 410.9h0M309.2 369.4h0M288.2 850.0h0M189.1 387.5h0M176.7 416.3h0M227.0 324.0h0M345.0 452.6h0M164.6 420.7h0M230.5 359.4h0M585.7 639.5h0M341.8 306.3h0M337.3 338.1h0M182.4 394.4h0M338.5 375.0h0M315.2 399.3h0M339.6 318.6h0M189.6 399.3h0M313.8 377.0h0M318.7 488.8h0M213.3 474.4h0M312.9 315.0h0M316.8 323.5h0M303.2 315.9h0M338.0 447.8h0M169.0 391.5h0M297.6 391.1h0M376.0 374.5h0M321.2 372.1h0M199.0 422.5h0M344.0 296.1h0M147.2 392.7h0M333.3 451.9h0M282.8 370.1h0M185.7 375.6h0M358.4 341.8h0M241.9 397.6h0M189.9 414.4h0M291.8 470.0h0M186.3 439.3h0M269.8 414.0h0M301.6 461.2h0M348.7 423.0h0M304.3 460.4h0M203.8 393.0h0M258.6 497.7h0M290.7 438.4h0M277.2 395.8h0M329.4 366.9h0M350.6 306.9h0M199.9 339.6h0M215.8 336.9h0M273.8 306.3h0M171.3 383.4h0M377.5 548.8h0M326.9 304.3h0M235.9 391.8h0M179.5 405.4h0M190.5 424.2h0M185.9 413.7h0M269.8 370.0h0M307.0 337.3h0M354.7 337.2h0M262.0 368.7h0M328.4 451.9h0M289.2 377.7h0M310.0 503.0h0M150.6 380.6h0M348.6 430.3h0M205.5 346.2h0M341.2 348.2h0M327.5 528.8h0M304.3 391.2h0"/>
<path stroke="#C49A00" d="M976.6 807.6h0M929.8 862.0h0M963.4 698.7h0M915.8 833.7h0M986.3 784.8h0M982.2 778.1h0M957.9 716.5h0M987.3 699.6h0M936.2 803.3h0M910.8 766.0h0M930.4 808.6h0M938.9 888.9h0M905.5 786.6h0M914.8 766.4h0M971.2 692.6h0M941.7 867.6h0M951.9 829.5h0M920.0 774.4h0M885.6 805.1h0M991.3 695.7h0M887.0 838.9h0M912.8 834.1h0M878.7 874.6h0M877.7 873.2h0M892.1 774.0h0M876.4 869.1h0M896.4 716.5h0M947.0 695.6h0M884.9 826.9h0M972.9 867.7h0M909.8 844.8h0M917.6 884.5h0M928.6 905.7h0M963.3 789.3h0M895.7 741.5h0M932.9 729.2h0M933.4 899.9h0M918.4 754.0h0M946.0 831.8h0M917.5 717.8h0M917.3 867.8h0M924.0 829.7h0M887.5 887.8h0M975.8 706.2h0M958.6 741.1h0M891.6 884.4h0M957.0 864.0h0M972.1 779.7h0M987.6 749.8h0M934.7 896.7h0M969.5 729.9h0M910.3 815.3h0M926.1 800.6h0M915.7 745.7h0M964.6 837.0h0M925.8 788.2h0M896.0 768.0h0M949.7 648.8h0M922.3 692.8h0M922.1 802.4h0M941.5 890.0h0M988.7 781.1h0M966.5 781.6h0M731.7 773.1h0M965.7 775.2h0M953.9 736.5h0M970.1 817.3h0M988.0 692.6h0M887.4 772.5h0M996.4 719.6h0M909.4 861.1h0M943.8 846.3h0M916.0 742.2h0M885.2 876.2h0M918.9 736.2h0M985.8 693.6h0M1004.0 759.4h0M926.7 897.8h0M828.9 824.1h0M912.6 862.8h0M926.1 859.0h0M989.3 785.0h0M969.2 840.3h0M895.6 844.9h0M972.1 739.5h0M981.4 833.6h0M396.2 858.0h0M918.2 815.5h0M984.6 715.2h0M989.3 790.0h0M967.9 821.2h0M905.0 891.7h0M950.6 761.6h0M921.7 672.9h0M992.0 705.4h0M971.2 724.5h0M981.8 855.9h0M939.6 885.5h0M960.0 719.0h0M925.4 797.0h0M887.4 769.5h0M920.5 882.1h0M957.2 830.1h0M901.9 875.5h0M982.0 808.5h0M933.0 727.1h0M945.7 826.8h0M954.6 844.1h0M931.4 679.6h0M981.6 692.6h0M931.0 840.3h0M927.2 802.4h0M997.9 809.5h0M975.9 748.0h0M849.9 859.1h0M907.2 704.5h0M1000.4 814.0h0M977.0 697.0h0M992.5 731.6h0M1001.0 812.0h0M945.6 736.8h0M949.6 854.9h0M928.6 698.3h0M940.0 751.5h0M945.2 758.4h0M967.6 813.0h0M952.7 763.1h0M846.2 849.8h0M924.2 802.4h0M894.3 840.8h0M929.7 763.6h0M958.4 802.8h0M937.0 876.5h0M959.5 704.3h0M975.6 868.3h0M967.5 759.8h0M902.5 719.2h0M919.1 849.6h0M940.8 891.5h0M942.4 725.3h0M936.6 864.1h0M925.6 855.2h0M995.6 712.1h0M943.7 732.5h0M937.4 786.8h0M897.9 829.1h0M903.3 864.2h0M911.8 794.0h0M935.1 818.8h0M961.2 831.2h0M982.4 709.0h0M990.7 691.6h0M925.7 759.5h0M921.6 848.1h0M898.6 752.2h0M1001.3 783.7h0M985.9 734.2h0M889.5 869.5h0M992.7 800.8h0M965.3 792.4h0M1000.1 781.7h0M978.1 717.3h0M944.4 761.8h0M867.4 812.0h0M878.3 817.8h0M838.0 844.3h0M967.2 739.6h0M993.4 709.3h0M881.9 879.9h0M971.0 788.7h0M934.0 799.0h0M900.2 820.5h0M919.4 892.2h0M913.6 836.5h0M890.7 887.0h0M917.4 803.6h0M928.7 803.0h0M903.6 723.6h0M914.5 887.6h0M904.9 884.1h0M932.6 802.4h0M943.4 769.3h0M981.3 853.1h0M945.9 771.5h0M932.4 817.0h0M936.5 722.1h0M936.9 823.9h0M965.6 686.5h0M924.2 888.4h0M968.5 858.1h0M968.3 805.8h0M951.5 691.1h0M977.7 830.4h0M922.8 854.3h0M916.0 762.5h0M939.4 806.3h0M834.9 851.4h0M987.0 683.9h0M982.8 747.5h0M922.5 835.1h0M991.2 698.7h0M890.8 843.0h0M907.0 881.0h0M955.4 715.8h0M999.2 719.7h0M954.5 744.9h0"/>
</g>
<g class="lb"><text x="275.2" y="397.1" text-anchor="middle">0</text><text x="863.3" y="160.1" text-anchor="middle">1</text><text x="963.2" y="225.9" text-anchor="middle">5</text><text x="916.5" y="361.7" text-anchor="middle">6</text><text x="883.9" y="579.9" text-anchor="middle">8</text><text x="942.7" y="801.1" text-anchor="middle">2</text><text x="739.4" y="832.1" text-anchor="middle">7</text><text x="664.5" y="759.1" text-anchor="middle">13</text><text x="361.3" y="641.1" text-anchor="middle">3</text><text x="195.5" y="655.1" text-anchor="middle">4</text><text x="280.8" y="785.1" text-anchor="middle">10</text><text x="357.0" y="867.1" text-anchor="middle">9</text><text x="585.9" y="619.2" text-anchor="middle">11</text><text x="670.5" y="624.1" text-anchor="middle">12</text></g>
<path class="axis" d="M96 13V951.8M94.94 951.8H1056"/>
<path class="axis" d="M116.8 951.8v7.3M361.5 951.8v7.3M606.2 951.8v7.3M850.9 951.8v7.3M96 256.7h-7.3M96 507.0h-7.3M96 757.3h-7.3"/>
<g class="tk"><text x="116.6" y="983" text-anchor="middle">-10</text><text x="360.5" y="983" text-anchor="middle">-5</text><text x="605.6" y="983" text-anchor="middle">0</text><text x="850.3" y="983" text-anchor="middle">5</text><text x="81" y="266.0" text-anchor="end">5</text><text x="81" y="515.7" text-anchor="end">0</text><text x="81" y="765.9" text-anchor="end">-5</text></g>
<g class="ti"><text transform="translate(574.3,1026.2) scale(1.01,1.1)" text-anchor="middle">UMAP_1</text>
<text transform="translate(45.4,483.2) rotate(-90) scale(1.01,1.1)" text-anchor="middle">UMAP_2</text></g>
<g class="lg"><circle cx="1113.5" cy="295.4" r="8.3" fill="#F8766D"/><text x="1143.3" y="304.0">0</text><circle cx="1113.5" cy="325.4" r="8.3" fill="#E38900"/><text x="1143.3" y="334.0">1</text><circle cx="1113.5" cy="355.4" r="8.3" fill="#C49A00"/><text x="1143.3" y="364.0">2</text><circle cx="1113.5" cy="385.4" r="8.3" fill="#99A800"/><text x="1143.3" y="394.0">3</text><circle cx="1113.5" cy="415.4" r="8.3" fill="#53B400"/><text x="1143.3" y="424.0">4</text><circle cx="1113.5" cy="445.4" r="8.3" fill="#00BC56"/><text x="1143.3" y="454.0">5</text><circle cx="1113.5" cy="475.4" r="8.3" fill="#00C094"/><text x="1143.3" y="484.0">6</text><circle cx="1113.5" cy="505.4" r="8.3" fill="#00BFC4"/><text x="1143.3" y="514.0">7</text><circle cx="1113.5" cy="535.4" r="8.3" fill="#00B6EB"/><text x="1143.3" y="544.0">8</text><circle cx="1113.5" cy="565.4" r="8.3" fill="#06A4FF"/><text x="1143.3" y="574.0">9</text><circle cx="1113.5" cy="595.4" r="8.3" fill="#A58AFF"/><text x="1143.3" y="604.0">10</text><circle cx="1113.5" cy="625.4" r="8.3" fill="#DF70F8"/><text x="1143.3" y="634.0">11</text><circle cx="1113.5" cy="655.4" r="8.3" fill="#FB61D7"/><text x="1143.3" y="664.0">12</text><circle cx="1113.5" cy="685.4" r="8.3" fill="#FF66A8"/><text x="1143.3" y="694.0">13</text></g>
</svg>
</body></html>
